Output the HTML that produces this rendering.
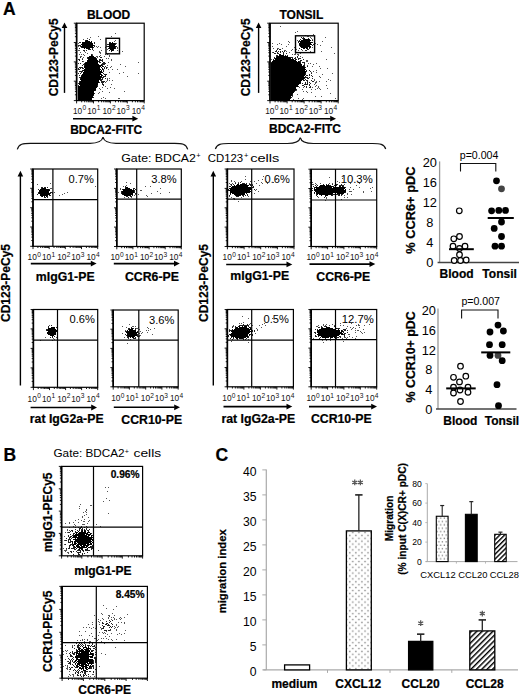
<!DOCTYPE html>
<html><head><meta charset="utf-8"><title>Figure</title>
<style>html,body{margin:0;padding:0;background:#fff;overflow:hidden;}svg{display:block;font-family:"Liberation Sans",sans-serif;}</style>
</head><body>
<svg width="520" height="695" viewBox="0 0 520 695" font-family="Liberation Sans"><style>text[font-weight=bold]{stroke:#000;stroke-width:0.22px}</style><text x="2.90" y="14.80" font-size="17.5" font-weight="bold" text-anchor="start" fill="#000">A</text>
<text x="3.40" y="461.00" font-size="17.5" font-weight="bold" text-anchor="start" fill="#000">B</text>
<text x="215.60" y="461.30" font-size="17.5" font-weight="bold" text-anchor="start" fill="#000">C</text>
<path d="M115 33h1v1h-1zM98 36h1v1h-1zM111 36h1v1h-1zM90 37h1v1h-1zM87 38h1v1h-1zM83 39h1v1h-1zM100 39h1v1h-1zM115 40h1v1h-1zM114 41h1v1h-1zM78 43h1v1h-1zM116 43h1v1h-1zM78 46h1v1h-1zM96 46h1v1h-1zM98 46h1v1h-1zM106 46h1v1h-1zM97 47h1v1h-1zM100 47h1v1h-1zM105 47h1v1h-1zM117 47h1v1h-1zM117 48h1v1h-1zM107 49h1v1h-1zM78 50h2v1h-2zM93 50h1v1h-1zM101 50h1v1h-1zM117 50h1v1h-1zM84 51h1v1h-1zM99 51h1v1h-1zM122 51h1v1h-1zM80 52h1v1h-1zM85 52h1v1h-1zM99 52h2v1h-2zM87 53h1v1h-1zM100 53h1v1h-1zM79 54h1v1h-1zM81 54h1v1h-1zM83 54h1v1h-1zM92 54h1v1h-1zM105 54h1v1h-1zM107 54h1v1h-1zM84 55h1v1h-1zM100 55h1v1h-1zM109 55h1v1h-1zM80 56h2v1h-2zM96 56h2v1h-2zM104 56h1v1h-1zM109 56h1v1h-1zM83 57h1v1h-1zM97 57h1v1h-1zM82 58h1v1h-1zM106 58h1v1h-1zM108 58h1v1h-1zM111 59h1v1h-1zM111 60h1v1h-1zM83 61h1v1h-1zM108 62h1v1h-1zM138 62h1v1h-1zM120 64h1v1h-1zM107 65h1v1h-1zM111 66h1v1h-1zM125 66h1v1h-1zM107 67h1v1h-1zM110 67h1v1h-1zM108 69h1v1h-1zM112 69h1v1h-1zM117 69h1v1h-1zM109 72h1v1h-1zM123 72h1v1h-1zM119 73h1v1h-1zM138 73h1v1h-1zM127 76h1v1h-1zM107 78h1v1h-1zM109 78h1v1h-1zM107 79h1v1h-1zM107 80h1v1h-1zM109 80h1v1h-1zM112 80h1v1h-1zM106 81h1v1h-1zM105 82h1v1h-1zM111 84h1v1h-1zM105 86h1v1h-1zM102 87h1v1h-1zM110 87h1v1h-1zM99 88h1v1h-1zM107 88h1v1h-1zM114 88h1v1h-1zM100 89h1v1h-1zM102 91h1v1h-1zM124 91h1v1h-1zM99 92h1v1h-1zM109 92h1v1h-1zM98 93h1v1h-1zM103 97h1v1h-1zM101 98h1v1h-1zM105 98h1v1h-1zM118 98h2v1h-2z" fill="#555" filter="url(#sb)"/>
<path d="M89 39h1v1h-1zM85 40h1v1h-1zM79 42h2v1h-2zM94 42h1v1h-1zM109 42h2v1h-2zM94 43h1v1h-1zM115 43h1v1h-1zM107 44h2v1h-2zM115 44h1v1h-1zM78 45h3v1h-3zM94 45h1v1h-1zM80 46h1v1h-1zM94 46h1v1h-1zM107 46h1v1h-1zM116 46h1v1h-1zM81 47h1v1h-1zM93 47h1v1h-1zM115 47h1v1h-1zM79 48h1v1h-1zM92 48h1v1h-1zM108 48h1v1h-1zM115 48h1v1h-1zM88 49h3v1h-3zM92 49h1v1h-1zM83 50h2v1h-2zM86 50h1v1h-1zM109 50h1v1h-1zM113 50h1v1h-1zM111 51h1v1h-1zM91 54h1v1h-1zM92 55h1v1h-1zM99 56h1v1h-1zM80 57h1v1h-1zM87 57h1v1h-1zM95 57h1v1h-1zM100 57h2v1h-2zM87 58h1v1h-1zM96 58h1v1h-1zM78 59h2v1h-2zM82 59h1v1h-1zM99 59h2v1h-2zM102 59h1v1h-1zM79 60h1v1h-1zM99 60h4v1h-4zM82 61h1v1h-1zM98 61h2v1h-2zM102 61h1v1h-1zM85 62h1v1h-1zM99 62h2v1h-2zM103 62h2v1h-2zM78 63h1v1h-1zM80 63h1v1h-1zM84 63h1v1h-1zM102 63h4v1h-4zM83 64h2v1h-2zM101 64h4v1h-4zM82 65h1v1h-1zM84 65h1v1h-1zM102 65h1v1h-1zM103 66h1v1h-1zM105 66h1v1h-1zM79 67h4v1h-4zM104 67h1v1h-1zM106 67h1v1h-1zM78 68h1v1h-1zM80 68h1v1h-1zM82 68h2v1h-2zM104 68h1v1h-1zM106 68h1v1h-1zM78 69h2v1h-2zM103 69h1v1h-1zM82 70h1v1h-1zM103 70h1v1h-1zM79 71h4v1h-4zM103 71h1v1h-1zM81 72h1v1h-1zM78 73h1v1h-1zM80 73h1v1h-1zM103 73h1v1h-1zM104 74h3v1h-3zM79 75h1v1h-1zM81 75h1v1h-1zM105 75h1v1h-1zM103 76h3v1h-3zM79 77h2v1h-2zM101 77h3v1h-3zM80 78h1v1h-1zM102 78h1v1h-1zM105 78h1v1h-1zM100 79h3v1h-3zM100 80h2v1h-2zM79 81h1v1h-1zM101 81h4v1h-4zM79 82h1v1h-1zM99 82h1v1h-1zM101 82h3v1h-3zM78 83h1v1h-1zM102 83h1v1h-1zM102 84h2v1h-2zM78 85h1v1h-1zM97 85h1v1h-1zM103 85h1v1h-1zM97 86h1v1h-1zM95 90h1v1h-1zM94 93h1v1h-1zM93 95h1v1h-1zM93 97h1v1h-1z" fill="#222" filter="url(#sb)"/>
<path d="M86 40h2v1h-2zM85 41h5v1h-5zM91 41h1v1h-1zM82 42h10v1h-10zM112 42h1v1h-1zM82 43h11v1h-11zM109 43h6v1h-6zM81 44h12v1h-12zM109 44h6v1h-6zM82 45h12v1h-12zM109 45h6v1h-6zM81 46h12v1h-12zM108 46h8v1h-8zM82 47h11v1h-11zM109 47h6v1h-6zM84 48h1v1h-1zM86 48h4v1h-4zM109 48h6v1h-6zM110 49h4v1h-4zM111 50h2v1h-2zM91 55h1v1h-1zM89 56h5v1h-5zM88 57h7v1h-7zM88 58h8v1h-8zM88 59h9v1h-9zM87 60h11v1h-11zM87 61h11v1h-11zM86 62h12v1h-12zM85 63h13v1h-13zM85 64h14v1h-14zM85 65h17v1h-17zM84 66h17v1h-17zM102 66h1v1h-1zM84 67h16v1h-16zM101 67h1v1h-1zM85 68h15v1h-15zM102 68h1v1h-1zM84 69h17v1h-17zM102 69h1v1h-1zM83 70h17v1h-17zM101 70h1v1h-1zM84 71h18v1h-18zM83 72h20v1h-20zM83 73h18v1h-18zM82 74h20v1h-20zM82 75h18v1h-18zM101 75h2v1h-2zM81 76h21v1h-21zM81 77h20v1h-20zM81 78h20v1h-20zM80 79h20v1h-20zM81 80h18v1h-18zM80 81h19v1h-19zM80 82h19v1h-19zM79 83h19v1h-19zM79 84h19v1h-19zM80 85h17v1h-17zM78 86h19v1h-19zM78 87h19v1h-19zM78 88h18v1h-18zM78 89h18v1h-18zM78 90h17v1h-17zM78 91h16v1h-16zM78 92h16v1h-16zM78 93h16v1h-16zM78 94h16v1h-16zM78 95h15v1h-15zM78 96h15v1h-15zM78 97h15v1h-15zM78 98h14v1h-14zM78 99h14v1h-14z" fill="#000" filter="url(#sb)"/>
<path d="M73.8 100.6H76.6M76.6 100.6V103.4M74.9 94.8H76.6M81.7 100.6V102.3M74.9 91.4H76.6M84.7 100.6V102.3M74.9 89.0H76.6M86.8 100.6V102.3M74.9 87.1H76.6M88.4 100.6V102.3M74.9 85.5H76.6M89.8 100.6V102.3M74.9 84.2H76.6M90.9 100.6V102.3M74.9 83.1H76.6M91.9 100.6V102.3M74.9 82.1H76.6M92.7 100.6V102.3M73.8 81.2H76.6M93.5 100.6V103.4M74.9 75.4H76.6M98.6 100.6V102.3M74.9 72.0H76.6M101.6 100.6V102.3M74.9 69.6H76.6M103.7 100.6V102.3M74.9 67.7H76.6M105.3 100.6V102.3M74.9 66.2H76.6M106.7 100.6V102.3M74.9 64.9H76.6M107.8 100.6V102.3M74.9 63.8H76.6M108.8 100.6V102.3M74.9 62.8H76.6M109.6 100.6V102.3M73.8 61.9H76.6M110.4 100.6V103.4M74.9 56.1H76.6M115.5 100.6V102.3M74.9 52.7H76.6M118.5 100.6V102.3M74.9 50.3H76.6M120.6 100.6V102.3M74.9 48.4H76.6M122.2 100.6V102.3M74.9 46.8H76.6M123.6 100.6V102.3M74.9 45.5H76.6M124.7 100.6V102.3M74.9 44.4H76.6M125.7 100.6V102.3M74.9 43.4H76.6M126.5 100.6V102.3M73.8 42.5H76.6M127.3 100.6V103.4M74.9 36.7H76.6M132.4 100.6V102.3M74.9 33.3H76.6M135.4 100.6V102.3M74.9 30.9H76.6M137.5 100.6V102.3M74.9 29.0H76.6M139.1 100.6V102.3M74.9 27.5H76.6M140.5 100.6V102.3M74.9 26.2H76.6M141.6 100.6V102.3M74.9 25.1H76.6M142.6 100.6V102.3M74.9 24.1H76.6M143.4 100.6V102.3M73.8 23.2H76.6M144.2 100.6V103.4" stroke="#000" stroke-width="0.9" fill="none"/>
<rect x="76.60" y="23.20" width="67.60" height="77.40" stroke="#000" stroke-width="1.2" fill="none"/>
<line x1="76.60" y1="22.90" x2="76.60" y2="100.90" stroke="#000" stroke-width="1.6"/>
<rect x="106.00" y="38.30" width="13.50" height="15.50" stroke="#000" stroke-width="1.4" fill="none"/>
<text x="108.60" y="19.00" font-size="12" font-weight="bold" text-anchor="middle" fill="#000">BLOOD</text>
<line x1="64.50" y1="92.90" x2="64.50" y2="27.50" stroke="#000" stroke-width="1.4"/>
<path d="M64.50 22.40L61.70 28.00L67.30 28.00Z" fill="#000"/>
<text x="58.40" y="57.30" font-size="12" font-weight="bold" text-anchor="middle" fill="#000" transform="rotate(-90 58.4 57.3)">CD123-PeCy5</text>
<text x="72.9" y="113.8" font-size="8.3" fill="#111">10<tspan font-size="6.6" dy="-3.6" dx="0.3">0</tspan></text>
<text x="87.2" y="113.8" font-size="8.3" fill="#111">10<tspan font-size="6.6" dy="-3.6" dx="0.3">1</tspan></text>
<text x="102.5" y="113.8" font-size="8.3" fill="#111">10<tspan font-size="6.6" dy="-3.6" dx="0.3">2</tspan></text>
<text x="116.5" y="113.8" font-size="8.3" fill="#111">10<tspan font-size="6.6" dy="-3.6" dx="0.3">3</tspan></text>
<text x="131.7" y="113.8" font-size="8.3" fill="#111">10<tspan font-size="6.6" dy="-3.6" dx="0.3">4</tspan></text>
<line x1="73.00" y1="118.70" x2="132.90" y2="118.70" stroke="#000" stroke-width="1.55"/>
<path d="M138.20 118.70L132.40 115.80L132.40 121.60Z" fill="#000"/>
<text x="106.20" y="133.60" font-size="12" font-weight="bold" text-anchor="middle" fill="#000">BDCA2-FITC</text>
<path d="M280 26h1v1h-1zM297 31h1v1h-1zM295 32h1v1h-1zM313 34h1v1h-1zM305 35h1v1h-1zM307 36h2v1h-2zM310 37h1v1h-1zM325 37h1v1h-1zM311 38h1v1h-1zM312 39h1v1h-1zM297 40h1v1h-1zM288 41h1v1h-1zM322 41h1v1h-1zM289 42h1v1h-1zM272 43h1v1h-1zM279 43h1v1h-1zM315 43h1v1h-1zM277 44h1v1h-1zM281 44h1v1h-1zM288 44h1v1h-1zM317 44h1v1h-1zM320 45h1v1h-1zM272 46h1v1h-1zM286 46h1v1h-1zM294 47h2v1h-2zM312 47h1v1h-1zM331 47h1v1h-1zM273 48h1v1h-1zM277 48h2v1h-2zM282 48h1v1h-1zM292 49h1v1h-1zM295 49h2v1h-2zM284 50h2v1h-2zM291 50h1v1h-1zM298 50h1v1h-1zM302 50h1v1h-1zM286 51h1v1h-1zM310 51h1v1h-1zM321 51h1v1h-1zM272 52h1v1h-1zM289 52h1v1h-1zM295 52h1v1h-1zM301 52h1v1h-1zM295 53h1v1h-1zM300 53h1v1h-1zM334 53h1v1h-1zM292 54h1v1h-1zM294 54h2v1h-2zM297 54h2v1h-2zM298 55h1v1h-1zM300 56h1v1h-1zM302 57h1v1h-1zM271 59h1v1h-1zM326 59h1v1h-1zM306 60h2v1h-2zM306 61h2v1h-2zM308 63h1v1h-1zM310 63h1v1h-1zM316 63h1v1h-1zM313 64h1v1h-1zM307 65h1v1h-1zM312 66h1v1h-1zM319 66h1v1h-1zM320 68h1v1h-1zM327 68h1v1h-1zM316 70h1v1h-1zM313 71h1v1h-1zM311 72h1v1h-1zM316 72h1v1h-1zM332 73h1v1h-1zM322 74h1v1h-1zM319 76h1v1h-1zM320 77h1v1h-1zM314 79h1v1h-1zM328 79h1v1h-1zM314 80h1v1h-1zM330 80h1v1h-1zM316 81h1v1h-1zM319 81h1v1h-1zM326 81h1v1h-1zM315 82h2v1h-2zM315 83h1v1h-1zM314 84h1v1h-1zM316 85h1v1h-1zM326 85h1v1h-1zM315 86h1v1h-1zM318 86h1v1h-1zM299 87h1v1h-1zM303 87h1v1h-1zM312 87h1v1h-1zM318 87h1v1h-1zM317 88h1v1h-1zM319 88h1v1h-1zM327 88h1v1h-1zM302 89h1v1h-1zM311 89h1v1h-1zM315 89h1v1h-1zM320 89h1v1h-1zM296 90h1v1h-1zM303 91h1v1h-1zM306 91h1v1h-1zM307 92h1v1h-1zM311 92h1v1h-1zM330 93h1v1h-1zM297 94h1v1h-1zM292 96h1v1h-1zM315 96h1v1h-1zM321 96h1v1h-1zM298 98h1v1h-1zM303 98h1v1h-1zM335 98h1v1h-1zM293 99h1v1h-1zM302 99h1v1h-1z" fill="#555" filter="url(#sb)"/>
<path d="M301 37h1v1h-1zM303 37h1v1h-1zM302 38h2v1h-2zM308 38h1v1h-1zM300 39h1v1h-1zM299 40h1v1h-1zM312 40h1v1h-1zM298 41h2v1h-2zM298 42h1v1h-1zM312 42h1v1h-1zM313 44h1v1h-1zM299 45h1v1h-1zM312 45h1v1h-1zM310 47h1v1h-1zM299 48h1v1h-1zM309 48h1v1h-1zM277 49h1v1h-1zM279 49h2v1h-2zM301 49h1v1h-1zM307 49h2v1h-2zM276 50h1v1h-1zM305 50h2v1h-2zM275 51h2v1h-2zM278 51h1v1h-1zM280 51h1v1h-1zM282 51h1v1h-1zM284 51h1v1h-1zM273 52h1v1h-1zM277 52h1v1h-1zM280 52h1v1h-1zM283 52h1v1h-1zM274 53h2v1h-2zM277 53h2v1h-2zM283 53h1v1h-1zM286 53h1v1h-1zM283 54h1v1h-1zM276 55h2v1h-2zM285 55h1v1h-1zM287 55h1v1h-1zM276 56h1v1h-1zM297 56h1v1h-1zM274 57h1v1h-1zM290 57h3v1h-3zM295 57h1v1h-1zM297 57h1v1h-1zM274 58h1v1h-1zM292 58h1v1h-1zM294 58h2v1h-2zM298 58h3v1h-3zM273 59h1v1h-1zM295 59h2v1h-2zM298 59h1v1h-1zM303 59h1v1h-1zM300 60h2v1h-2zM299 61h2v1h-2zM271 62h1v1h-1zM300 62h1v1h-1zM302 62h3v1h-3zM304 63h1v1h-1zM304 64h1v1h-1zM303 65h2v1h-2zM304 66h1v1h-1zM307 66h1v1h-1zM305 67h1v1h-1zM306 70h1v1h-1zM309 70h1v1h-1zM306 71h1v1h-1zM310 71h1v1h-1zM305 73h1v1h-1zM311 73h1v1h-1zM305 74h1v1h-1zM309 74h1v1h-1zM306 75h2v1h-2zM309 75h1v1h-1zM311 75h1v1h-1zM305 76h1v1h-1zM312 76h1v1h-1zM305 77h3v1h-3zM309 77h1v1h-1zM304 78h1v1h-1zM307 78h2v1h-2zM312 78h1v1h-1zM303 79h1v1h-1zM305 79h1v1h-1zM303 80h2v1h-2zM306 80h2v1h-2zM311 80h1v1h-1zM307 81h1v1h-1zM312 81h2v1h-2zM305 82h1v1h-1zM307 82h1v1h-1zM309 82h1v1h-1zM300 83h1v1h-1zM302 83h1v1h-1zM305 83h1v1h-1zM307 83h1v1h-1zM310 83h1v1h-1zM304 84h4v1h-4zM309 84h1v1h-1zM302 85h2v1h-2zM309 85h1v1h-1zM298 86h1v1h-1zM304 86h1v1h-1zM306 86h1v1h-1zM310 86h1v1h-1zM306 87h1v1h-1zM309 87h2v1h-2zM296 89h1v1h-1zM295 90h1v1h-1zM294 91h1v1h-1zM292 94h1v1h-1zM292 95h1v1h-1zM291 97h1v1h-1zM290 98h1v1h-1z" fill="#222" filter="url(#sb)"/>
<path d="M304 38h1v1h-1zM303 39h7v1h-7zM301 40h10v1h-10zM300 41h10v1h-10zM300 42h12v1h-12zM299 43h12v1h-12zM299 44h13v1h-13zM300 45h10v1h-10zM300 46h11v1h-11zM301 47h7v1h-7zM309 47h1v1h-1zM303 48h2v1h-2zM306 48h2v1h-2zM279 54h2v1h-2zM279 55h5v1h-5zM277 56h11v1h-11zM276 57h14v1h-14zM275 58h16v1h-16zM275 59h19v1h-19zM273 60h23v1h-23zM272 61h25v1h-25zM298 61h1v1h-1zM272 62h28v1h-28zM271 63h30v1h-30zM271 64h31v1h-31zM271 65h31v1h-31zM271 66h33v1h-33zM271 67h34v1h-34zM271 68h34v1h-34zM271 69h35v1h-35zM271 70h34v1h-34zM271 71h35v1h-35zM271 72h35v1h-35zM271 73h34v1h-34zM271 74h34v1h-34zM271 75h34v1h-34zM271 76h33v1h-33zM271 77h34v1h-34zM271 78h33v1h-33zM271 79h32v1h-32zM271 80h31v1h-31zM271 81h30v1h-30zM271 82h30v1h-30zM271 83h29v1h-29zM271 84h28v1h-28zM271 85h27v1h-27zM271 86h27v1h-27zM271 87h25v1h-25zM271 88h25v1h-25zM271 89h25v1h-25zM271 90h24v1h-24zM271 91h23v1h-23zM271 92h23v1h-23zM271 93h22v1h-22zM271 94h21v1h-21zM271 95h21v1h-21zM271 96h20v1h-20zM271 97h20v1h-20zM271 98h19v1h-19zM271 99h19v1h-19z" fill="#000" filter="url(#sb)"/>
<path d="M267.2 100.6H270.0M270.0 100.6V103.4M268.3 94.8H270.0M275.1 100.6V102.3M268.3 91.4H270.0M278.1 100.6V102.3M268.3 89.0H270.0M280.3 100.6V102.3M268.3 87.1H270.0M281.9 100.6V102.3M268.3 85.5H270.0M283.3 100.6V102.3M268.3 84.2H270.0M284.4 100.6V102.3M268.3 83.1H270.0M285.4 100.6V102.3M268.3 82.1H270.0M286.3 100.6V102.3M267.2 81.2H270.0M287.1 100.6V103.4M268.3 75.4H270.0M292.2 100.6V102.3M268.3 72.0H270.0M295.2 100.6V102.3M268.3 69.6H270.0M297.3 100.6V102.3M268.3 67.7H270.0M299.0 100.6V102.3M268.3 66.2H270.0M300.3 100.6V102.3M268.3 64.9H270.0M301.5 100.6V102.3M268.3 63.8H270.0M302.4 100.6V102.3M268.3 62.8H270.0M303.3 100.6V102.3M267.2 61.9H270.0M304.1 100.6V103.4M268.3 56.1H270.0M309.2 100.6V102.3M268.3 52.7H270.0M312.2 100.6V102.3M268.3 50.3H270.0M314.4 100.6V102.3M268.3 48.4H270.0M316.0 100.6V102.3M268.3 46.8H270.0M317.4 100.6V102.3M268.3 45.5H270.0M318.5 100.6V102.3M268.3 44.4H270.0M319.5 100.6V102.3M268.3 43.4H270.0M320.4 100.6V102.3M267.2 42.5H270.0M321.1 100.6V103.4M268.3 36.7H270.0M326.3 100.6V102.3M268.3 33.3H270.0M329.3 100.6V102.3M268.3 30.9H270.0M331.4 100.6V102.3M268.3 29.0H270.0M333.1 100.6V102.3M268.3 27.5H270.0M334.4 100.6V102.3M268.3 26.2H270.0M335.6 100.6V102.3M268.3 25.1H270.0M336.5 100.6V102.3M268.3 24.1H270.0M337.4 100.6V102.3M267.2 23.2H270.0M338.2 100.6V103.4" stroke="#000" stroke-width="0.9" fill="none"/>
<rect x="270.00" y="23.20" width="68.20" height="77.40" stroke="#000" stroke-width="1.2" fill="none"/>
<line x1="270.00" y1="22.90" x2="270.00" y2="100.90" stroke="#000" stroke-width="1.6"/>
<rect x="295.50" y="35.80" width="19.10" height="16.80" stroke="#000" stroke-width="1.4" fill="none"/>
<text x="301.40" y="18.80" font-size="12" font-weight="bold" text-anchor="middle" fill="#000">TONSIL</text>
<line x1="258.60" y1="92.90" x2="258.60" y2="27.50" stroke="#000" stroke-width="1.4"/>
<path d="M258.60 22.40L255.80 28.00L261.40 28.00Z" fill="#000"/>
<text x="249.60" y="57.30" font-size="12" font-weight="bold" text-anchor="middle" fill="#000" transform="rotate(-90 249.6 57.3)">CD123-PeCy5</text>
<text x="265.2" y="113.8" font-size="8.3" fill="#111">10<tspan font-size="6.6" dy="-3.6" dx="0.3">0</tspan></text>
<text x="279.5" y="113.8" font-size="8.3" fill="#111">10<tspan font-size="6.6" dy="-3.6" dx="0.3">1</tspan></text>
<text x="294.8" y="113.8" font-size="8.3" fill="#111">10<tspan font-size="6.6" dy="-3.6" dx="0.3">2</tspan></text>
<text x="308.8" y="113.8" font-size="8.3" fill="#111">10<tspan font-size="6.6" dy="-3.6" dx="0.3">3</tspan></text>
<text x="324.0" y="113.8" font-size="8.3" fill="#111">10<tspan font-size="6.6" dy="-3.6" dx="0.3">4</tspan></text>
<line x1="270.00" y1="118.70" x2="330.70" y2="118.70" stroke="#000" stroke-width="1.55"/>
<path d="M336.00 118.70L330.20 115.80L330.20 121.60Z" fill="#000"/>
<text x="305.00" y="132.90" font-size="12" font-weight="bold" text-anchor="middle" fill="#000">BDCA2-FITC</text>
<path d="M17.3 149.4 C18.8 143.8 23.3 143.3 30.3 143.3 L90 143.3 C98 143.3 102 141.8 103 137 C104 141.8 108 143.3 116 143.3 L174.7 143.3 C181.7 143.3 186.2 143.8 187.7 149.4" stroke="#111" stroke-width="1.2" fill="none"/>
<path d="M215.4 149 C216.9 144.0 221.4 143.5 228.4 143.5 L287.3 143.5 C295.3 143.5 299.3 142.0 300.3 137.6 C301.3 142.0 305.3 143.5 313.3 143.5 L372.7 143.5 C379.7 143.5 384.2 144.0 385.7 149" stroke="#111" stroke-width="1.2" fill="none"/>
<text x="121.3" y="162.0" font-size="11.4" textLength="74.6" lengthAdjust="spacingAndGlyphs">Gate: BDCA2</text>
<text x="196.2" y="158.3" font-size="7.5">+</text>
<text x="207.8" y="162.0" font-size="11.4" textLength="35.4" lengthAdjust="spacingAndGlyphs">CD123</text>
<text x="243.9" y="158.3" font-size="7.5">+</text>
<text x="250.2" y="162.0" font-size="11.4" textLength="29.2" lengthAdjust="spacingAndGlyphs">cells</text>
<path d="M50 183h1v1h-1zM37 184h1v1h-1zM95 186h1v1h-1zM50 188h2v1h-2zM52 192h1v1h-1zM54 192h1v1h-1zM67 192h1v1h-1zM52 193h1v1h-1zM64 193h1v1h-1zM62 194h1v1h-1zM59 195h1v1h-1z" fill="#555" filter="url(#sb)"/>
<path d="M41 187h2v1h-2zM44 187h2v1h-2zM47 187h1v1h-1zM41 188h1v1h-1zM38 189h1v1h-1zM49 189h1v1h-1zM38 192h1v1h-1zM50 192h2v1h-2zM38 193h1v1h-1zM50 193h1v1h-1zM37 194h1v1h-1zM49 195h2v1h-2zM41 196h1v1h-1zM47 196h1v1h-1zM44 197h2v1h-2zM47 197h1v1h-1z" fill="#222" filter="url(#sb)"/>
<path d="M42 188h4v1h-4zM40 189h9v1h-9zM39 190h11v1h-11zM39 191h10v1h-10zM39 192h10v1h-10zM39 193h11v1h-11zM40 194h10v1h-10zM40 195h8v1h-8zM42 196h1v1h-1zM44 196h1v1h-1zM46 196h1v1h-1z" fill="#000" filter="url(#sb)"/>
<path d="M30.2 246.3H33.0M33.0 246.3V249.1M31.3 240.5H33.0M37.9 246.3V248.0M31.3 237.1H33.0M40.7 246.3V248.0M31.3 234.7H33.0M42.7 246.3V248.0M31.3 232.8H33.0M44.3 246.3V248.0M31.3 231.3H33.0M45.6 246.3V248.0M31.3 230.0H33.0M46.7 246.3V248.0M31.3 228.8H33.0M47.6 246.3V248.0M31.3 227.9H33.0M48.4 246.3V248.0M30.2 227.0H33.0M49.2 246.3V249.1M31.3 221.2H33.0M54.0 246.3V248.0M31.3 217.8H33.0M56.9 246.3V248.0M31.3 215.3H33.0M58.9 246.3V248.0M31.3 213.5H33.0M60.5 246.3V248.0M31.3 211.9H33.0M61.8 246.3V248.0M31.3 210.6H33.0M62.8 246.3V248.0M31.3 209.5H33.0M63.8 246.3V248.0M31.3 208.5H33.0M64.6 246.3V248.0M30.2 207.7H33.0M65.3 246.3V249.1M31.3 201.8H33.0M70.2 246.3V248.0M31.3 198.4H33.0M73.1 246.3V248.0M31.3 196.0H33.0M75.1 246.3V248.0M31.3 194.1H33.0M76.7 246.3V248.0M31.3 192.6H33.0M77.9 246.3V248.0M31.3 191.3H33.0M79.0 246.3V248.0M31.3 190.2H33.0M80.0 246.3V248.0M31.3 189.2H33.0M80.8 246.3V248.0M30.2 188.3H33.0M81.5 246.3V249.1M31.3 182.5H33.0M86.4 246.3V248.0M31.3 179.1H33.0M89.2 246.3V248.0M31.3 176.7H33.0M91.3 246.3V248.0M31.3 174.8H33.0M92.8 246.3V248.0M31.3 173.3H33.0M94.1 246.3V248.0M31.3 172.0H33.0M95.2 246.3V248.0M31.3 170.9H33.0M96.1 246.3V248.0M31.3 169.9H33.0M97.0 246.3V248.0M30.2 169.0H33.0M97.7 246.3V249.1" stroke="#000" stroke-width="0.9" fill="none"/>
<line x1="52.90" y1="169.00" x2="52.90" y2="246.30" stroke="#000" stroke-width="1.2"/>
<line x1="33.00" y1="199.60" x2="97.70" y2="199.60" stroke="#000" stroke-width="1.2"/>
<rect x="33.00" y="169.00" width="64.70" height="77.30" stroke="#000" stroke-width="1.2" fill="none"/>
<line x1="33.00" y1="168.70" x2="33.00" y2="246.60" stroke="#000" stroke-width="1.6"/>
<text x="93.90" y="182.70" font-size="11.1" text-anchor="end" fill="#000">0.7%</text>
<text x="27.6" y="260.4" font-size="8.3" fill="#111">10<tspan font-size="6.6" dy="-3.6" dx="0.3">0</tspan></text>
<text x="41.9" y="260.4" font-size="8.3" fill="#111">10<tspan font-size="6.6" dy="-3.6" dx="0.3">1</tspan></text>
<text x="57.2" y="260.4" font-size="8.3" fill="#111">10<tspan font-size="6.6" dy="-3.6" dx="0.3">2</tspan></text>
<text x="71.2" y="260.4" font-size="8.3" fill="#111">10<tspan font-size="6.6" dy="-3.6" dx="0.3">3</tspan></text>
<text x="86.4" y="260.4" font-size="8.3" fill="#111">10<tspan font-size="6.6" dy="-3.6" dx="0.3">4</tspan></text>
<line x1="30.80" y1="263.60" x2="91.30" y2="263.60" stroke="#000" stroke-width="1.55"/>
<path d="M96.60 263.60L90.80 260.70L90.80 266.50Z" fill="#000"/>
<text x="65.20" y="280.60" font-size="12.3" font-weight="bold" text-anchor="middle" fill="#000">mIgG1-PE</text>
<path d="M126 182h1v1h-1zM130 183h1v1h-1zM126 185h1v1h-1zM123 186h1v1h-1zM145 186h1v1h-1zM150 186h1v1h-1zM120 188h1v1h-1zM160 188h1v1h-1zM120 189h1v1h-1zM136 190h1v1h-1zM140 190h2v1h-2zM157 191h1v1h-1zM118 192h1v1h-1zM169 192h1v1h-1zM136 193h1v1h-1zM151 193h1v1h-1zM160 193h1v1h-1zM135 194h1v1h-1zM138 194h1v1h-1zM134 195h1v1h-1zM146 195h1v1h-1zM147 196h1v1h-1zM124 197h1v1h-1zM131 197h1v1h-1z" fill="#555" filter="url(#sb)"/>
<path d="M125 186h1v1h-1zM125 187h1v1h-1zM133 188h2v1h-2zM122 189h1v1h-1zM133 189h1v1h-1zM135 189h1v1h-1zM134 190h1v1h-1zM121 191h1v1h-1zM134 191h1v1h-1zM121 192h1v1h-1zM134 192h1v1h-1zM121 193h1v1h-1zM135 193h1v1h-1zM122 194h1v1h-1zM132 195h1v1h-1zM126 196h2v1h-2zM130 196h2v1h-2zM128 197h1v1h-1z" fill="#222" filter="url(#sb)"/>
<path d="M126 187h2v1h-2zM125 188h5v1h-5zM123 189h9v1h-9zM123 190h11v1h-11zM122 191h12v1h-12zM122 192h12v1h-12zM122 193h11v1h-11zM123 194h10v1h-10zM124 195h7v1h-7z" fill="#000" filter="url(#sb)"/>
<path d="M114.0 246.5H116.8M116.8 246.5V249.3M115.1 240.7H116.8M121.7 246.5V248.2M115.1 237.3H116.8M124.5 246.5V248.2M115.1 234.8H116.8M126.5 246.5V248.2M115.1 233.0H116.8M128.1 246.5V248.2M115.1 231.4H116.8M129.3 246.5V248.2M115.1 230.1H116.8M130.4 246.5V248.2M115.1 229.0H116.8M131.4 246.5V248.2M115.1 228.0H116.8M132.2 246.5V248.2M114.0 227.1H116.8M132.9 246.5V249.3M115.1 221.3H116.8M137.8 246.5V248.2M115.1 217.9H116.8M140.6 246.5V248.2M115.1 215.5H116.8M142.6 246.5V248.2M115.1 213.6H116.8M144.2 246.5V248.2M115.1 212.0H116.8M145.5 246.5V248.2M115.1 210.8H116.8M146.6 246.5V248.2M115.1 209.6H116.8M147.5 246.5V248.2M115.1 208.6H116.8M148.3 246.5V248.2M114.0 207.8H116.8M149.1 246.5V249.3M115.1 201.9H116.8M153.9 246.5V248.2M115.1 198.5H116.8M156.7 246.5V248.2M115.1 196.1H116.8M158.8 246.5V248.2M115.1 194.2H116.8M160.3 246.5V248.2M115.1 192.7H116.8M161.6 246.5V248.2M115.1 191.4H116.8M162.7 246.5V248.2M115.1 190.3H116.8M163.6 246.5V248.2M115.1 189.3H116.8M164.4 246.5V248.2M114.0 188.4H116.8M165.2 246.5V249.3M115.1 182.5H116.8M170.0 246.5V248.2M115.1 179.1H116.8M172.9 246.5V248.2M115.1 176.7H116.8M174.9 246.5V248.2M115.1 174.8H116.8M176.4 246.5V248.2M115.1 173.3H116.8M177.7 246.5V248.2M115.1 172.0H116.8M178.8 246.5V248.2M115.1 170.9H116.8M179.7 246.5V248.2M115.1 169.9H116.8M180.6 246.5V248.2M114.0 169.0H116.8M181.3 246.5V249.3" stroke="#000" stroke-width="0.9" fill="none"/>
<line x1="136.70" y1="169.00" x2="136.70" y2="246.50" stroke="#000" stroke-width="1.2"/>
<line x1="116.80" y1="199.10" x2="181.30" y2="199.10" stroke="#000" stroke-width="1.2"/>
<rect x="116.80" y="169.00" width="64.50" height="77.50" stroke="#000" stroke-width="1.2" fill="none"/>
<line x1="116.80" y1="168.70" x2="116.80" y2="246.80" stroke="#000" stroke-width="1.6"/>
<text x="176.60" y="182.70" font-size="11.1" text-anchor="end" fill="#000">3.8%</text>
<text x="110.4" y="260.4" font-size="8.3" fill="#111">10<tspan font-size="6.6" dy="-3.6" dx="0.3">0</tspan></text>
<text x="124.7" y="260.4" font-size="8.3" fill="#111">10<tspan font-size="6.6" dy="-3.6" dx="0.3">1</tspan></text>
<text x="140.0" y="260.4" font-size="8.3" fill="#111">10<tspan font-size="6.6" dy="-3.6" dx="0.3">2</tspan></text>
<text x="154.0" y="260.4" font-size="8.3" fill="#111">10<tspan font-size="6.6" dy="-3.6" dx="0.3">3</tspan></text>
<text x="169.2" y="260.4" font-size="8.3" fill="#111">10<tspan font-size="6.6" dy="-3.6" dx="0.3">4</tspan></text>
<line x1="113.80" y1="263.60" x2="174.50" y2="263.60" stroke="#000" stroke-width="1.55"/>
<path d="M179.80 263.60L174.00 260.70L174.00 266.50Z" fill="#000"/>
<text x="151.90" y="280.60" font-size="12.3" font-weight="bold" text-anchor="middle" fill="#000">CCR6-PE</text>
<path d="M245 176h1v1h-1zM263 176h1v1h-1zM245 179h1v1h-1zM262 179h1v1h-1zM276 179h1v1h-1zM231 180h1v1h-1zM258 180h1v1h-1zM231 181h1v1h-1zM234 181h1v1h-1zM241 181h1v1h-1zM250 181h1v1h-1zM254 181h1v1h-1zM266 181h1v1h-1zM235 182h1v1h-1zM238 182h1v1h-1zM261 182h1v1h-1zM273 182h1v1h-1zM229 183h1v1h-1zM232 183h1v1h-1zM249 183h1v1h-1zM256 183h1v1h-1zM262 183h1v1h-1zM267 183h1v1h-1zM230 184h1v1h-1zM252 184h1v1h-1zM259 185h1v1h-1zM256 189h1v1h-1zM255 190h1v1h-1zM258 191h1v1h-1zM254 193h1v1h-1zM229 196h1v1h-1zM248 196h1v1h-1zM231 197h1v1h-1zM241 197h1v1h-1zM233 198h2v1h-2zM234 199h1v1h-1zM238 201h1v1h-1z" fill="#555" filter="url(#sb)"/>
<path d="M240 182h1v1h-1zM235 183h1v1h-1zM238 183h1v1h-1zM242 183h3v1h-3zM246 183h1v1h-1zM231 184h1v1h-1zM233 184h1v1h-1zM246 184h1v1h-1zM249 184h2v1h-2zM231 185h1v1h-1zM250 185h1v1h-1zM252 185h1v1h-1zM229 186h2v1h-2zM253 186h1v1h-1zM252 187h2v1h-2zM228 189h1v1h-1zM254 189h1v1h-1zM228 190h1v1h-1zM251 190h1v1h-1zM251 192h1v1h-1zM230 194h1v1h-1zM247 194h1v1h-1zM229 195h1v1h-1zM235 195h1v1h-1zM242 195h2v1h-2zM245 195h1v1h-1zM247 195h1v1h-1zM236 196h3v1h-3zM243 196h1v1h-1z" fill="#222" filter="url(#sb)"/>
<path d="M237 184h2v1h-2zM240 184h6v1h-6zM234 185h1v1h-1zM236 185h13v1h-13zM232 186h16v1h-16zM231 187h20v1h-20zM229 188h23v1h-23zM230 189h22v1h-22zM229 190h21v1h-21zM230 191h21v1h-21zM230 192h20v1h-20zM230 193h1v1h-1zM232 193h13v1h-13zM246 193h1v1h-1zM234 194h11v1h-11zM236 195h5v1h-5z" fill="#000" filter="url(#sb)"/>
<path d="M224.6 246.5H227.4M227.4 246.5V249.3M225.7 240.7H227.4M232.4 246.5V248.2M225.7 237.3H227.4M235.3 246.5V248.2M225.7 234.8H227.4M237.4 246.5V248.2M225.7 233.0H227.4M239.0 246.5V248.2M225.7 231.4H227.4M240.4 246.5V248.2M225.7 230.1H227.4M241.5 246.5V248.2M225.7 229.0H227.4M242.4 246.5V248.2M225.7 228.0H227.4M243.3 246.5V248.2M224.6 227.1H227.4M244.1 246.5V249.3M225.7 221.3H227.4M249.1 246.5V248.2M225.7 217.9H227.4M252.0 246.5V248.2M225.7 215.5H227.4M254.1 246.5V248.2M225.7 213.6H227.4M255.7 246.5V248.2M225.7 212.0H227.4M257.0 246.5V248.2M225.7 210.8H227.4M258.1 246.5V248.2M225.7 209.6H227.4M259.1 246.5V248.2M225.7 208.6H227.4M259.9 246.5V248.2M224.6 207.8H227.4M260.7 246.5V249.3M225.7 201.9H227.4M265.7 246.5V248.2M225.7 198.5H227.4M268.6 246.5V248.2M225.7 196.1H227.4M270.7 246.5V248.2M225.7 194.2H227.4M272.3 246.5V248.2M225.7 192.7H227.4M273.7 246.5V248.2M225.7 191.4H227.4M274.8 246.5V248.2M225.7 190.3H227.4M275.7 246.5V248.2M225.7 189.3H227.4M276.6 246.5V248.2M224.6 188.4H227.4M277.4 246.5V249.3M225.7 182.5H227.4M282.4 246.5V248.2M225.7 179.1H227.4M285.3 246.5V248.2M225.7 176.7H227.4M287.4 246.5V248.2M225.7 174.8H227.4M289.0 246.5V248.2M225.7 173.3H227.4M290.3 246.5V248.2M225.7 172.0H227.4M291.4 246.5V248.2M225.7 170.9H227.4M292.4 246.5V248.2M225.7 169.9H227.4M293.2 246.5V248.2M224.6 169.0H227.4M294.0 246.5V249.3" stroke="#000" stroke-width="0.9" fill="none"/>
<line x1="251.70" y1="169.00" x2="251.70" y2="246.50" stroke="#000" stroke-width="1.2"/>
<line x1="227.40" y1="199.10" x2="294.00" y2="199.10" stroke="#000" stroke-width="1.2"/>
<rect x="227.40" y="169.00" width="66.60" height="77.50" stroke="#000" stroke-width="1.2" fill="none"/>
<line x1="227.40" y1="168.70" x2="227.40" y2="246.80" stroke="#000" stroke-width="1.6"/>
<text x="289.80" y="182.70" font-size="11.1" text-anchor="end" fill="#000">0.6%</text>
<text x="222.6" y="260.4" font-size="8.3" fill="#111">10<tspan font-size="6.6" dy="-3.6" dx="0.3">0</tspan></text>
<text x="236.9" y="260.4" font-size="8.3" fill="#111">10<tspan font-size="6.6" dy="-3.6" dx="0.3">1</tspan></text>
<text x="252.2" y="260.4" font-size="8.3" fill="#111">10<tspan font-size="6.6" dy="-3.6" dx="0.3">2</tspan></text>
<text x="266.2" y="260.4" font-size="8.3" fill="#111">10<tspan font-size="6.6" dy="-3.6" dx="0.3">3</tspan></text>
<text x="281.4" y="260.4" font-size="8.3" fill="#111">10<tspan font-size="6.6" dy="-3.6" dx="0.3">4</tspan></text>
<line x1="226.20" y1="264.40" x2="287.00" y2="264.40" stroke="#000" stroke-width="1.55"/>
<path d="M292.30 264.40L286.50 261.50L286.50 267.30Z" fill="#000"/>
<text x="259.70" y="280.20" font-size="12.3" font-weight="bold" text-anchor="middle" fill="#000">mIgG1-PE</text>
<path d="M329 177h1v1h-1zM342 178h1v1h-1zM337 181h1v1h-1zM312 182h1v1h-1zM339 182h1v1h-1zM315 183h1v1h-1zM320 183h1v1h-1zM329 183h1v1h-1zM332 183h1v1h-1zM335 183h1v1h-1zM350 183h1v1h-1zM359 183h1v1h-1zM312 184h2v1h-2zM316 184h1v1h-1zM344 184h1v1h-1zM356 185h1v1h-1zM350 187h1v1h-1zM359 187h1v1h-1zM372 187h1v1h-1zM370 188h1v1h-1zM349 189h1v1h-1zM353 189h1v1h-1zM349 191h3v1h-3zM363 191h1v1h-1zM371 191h1v1h-1zM363 192h1v1h-1zM347 193h1v1h-1zM347 194h1v1h-1zM351 194h1v1h-1zM344 195h1v1h-1zM318 197h1v1h-1zM326 197h1v1h-1zM344 197h1v1h-1zM347 197h1v1h-1zM326 198h1v1h-1zM341 199h1v1h-1zM325 200h1v1h-1z" fill="#555" filter="url(#sb)"/>
<path d="M323 184h1v1h-1zM326 184h1v1h-1zM328 184h1v1h-1zM332 184h1v1h-1zM336 184h2v1h-2zM341 184h1v1h-1zM315 185h1v1h-1zM317 185h1v1h-1zM329 185h2v1h-2zM334 185h1v1h-1zM336 185h1v1h-1zM339 185h5v1h-5zM313 186h1v1h-1zM316 186h1v1h-1zM333 186h1v1h-1zM343 186h1v1h-1zM314 187h1v1h-1zM345 187h1v1h-1zM312 188h1v1h-1zM312 190h1v1h-1zM345 192h1v1h-1zM314 193h1v1h-1zM316 194h1v1h-1zM332 194h7v1h-7zM341 194h2v1h-2zM316 195h1v1h-1zM331 195h2v1h-2zM335 195h1v1h-1zM338 195h2v1h-2zM341 195h1v1h-1zM317 196h1v1h-1zM325 196h1v1h-1zM324 197h1v1h-1z" fill="#222" filter="url(#sb)"/>
<path d="M320 185h5v1h-5zM326 185h3v1h-3zM319 186h14v1h-14zM339 186h2v1h-2zM342 186h1v1h-1zM315 187h17v1h-17zM333 187h12v1h-12zM314 188h1v1h-1zM316 188h29v1h-29zM314 189h30v1h-30zM345 189h1v1h-1zM314 190h32v1h-32zM315 191h31v1h-31zM314 192h1v1h-1zM316 192h29v1h-29zM316 193h17v1h-17zM335 193h1v1h-1zM337 193h7v1h-7zM317 194h1v1h-1zM319 194h13v1h-13zM339 194h1v1h-1zM321 195h1v1h-1zM325 195h3v1h-3z" fill="#000" filter="url(#sb)"/>
<path d="M308.4 246.5H311.2M311.2 246.5V249.3M309.5 240.7H311.2M316.1 246.5V248.2M309.5 237.3H311.2M319.0 246.5V248.2M309.5 234.9H311.2M321.1 246.5V248.2M309.5 233.0H311.2M322.6 246.5V248.2M309.5 231.5H311.2M323.9 246.5V248.2M309.5 230.2H311.2M325.0 246.5V248.2M309.5 229.0H311.2M326.0 246.5V248.2M309.5 228.1H311.2M326.8 246.5V248.2M308.4 227.2H311.2M327.6 246.5V249.3M309.5 221.4H311.2M332.5 246.5V248.2M309.5 218.0H311.2M335.4 246.5V248.2M309.5 215.5H311.2M337.4 246.5V248.2M309.5 213.7H311.2M339.0 246.5V248.2M309.5 212.1H311.2M340.3 246.5V248.2M309.5 210.8H311.2M341.4 246.5V248.2M309.5 209.7H311.2M342.4 246.5V248.2M309.5 208.7H311.2M343.2 246.5V248.2M308.4 207.8H311.2M343.9 246.5V249.3M309.5 202.0H311.2M348.9 246.5V248.2M309.5 198.6H311.2M351.8 246.5V248.2M309.5 196.2H311.2M353.8 246.5V248.2M309.5 194.3H311.2M355.4 246.5V248.2M309.5 192.8H311.2M356.7 246.5V248.2M309.5 191.5H311.2M357.8 246.5V248.2M309.5 190.4H311.2M358.7 246.5V248.2M309.5 189.4H311.2M359.6 246.5V248.2M308.4 188.5H311.2M360.3 246.5V249.3M309.5 182.7H311.2M365.3 246.5V248.2M309.5 179.3H311.2M368.1 246.5V248.2M309.5 176.9H311.2M370.2 246.5V248.2M309.5 175.0H311.2M371.8 246.5V248.2M309.5 173.5H311.2M373.1 246.5V248.2M309.5 172.2H311.2M374.2 246.5V248.2M309.5 171.1H311.2M375.1 246.5V248.2M309.5 170.1H311.2M376.0 246.5V248.2M308.4 169.2H311.2M376.7 246.5V249.3" stroke="#000" stroke-width="0.9" fill="none"/>
<line x1="335.50" y1="169.20" x2="335.50" y2="246.50" stroke="#000" stroke-width="1.2"/>
<line x1="311.20" y1="200.00" x2="376.70" y2="200.00" stroke="#000" stroke-width="1.2"/>
<rect x="311.20" y="169.20" width="65.50" height="77.30" stroke="#000" stroke-width="1.2" fill="none"/>
<line x1="311.20" y1="168.90" x2="311.20" y2="246.80" stroke="#000" stroke-width="1.6"/>
<text x="372.70" y="182.90" font-size="11.3" text-anchor="end" fill="#000">10.3%</text>
<text x="306.4" y="260.4" font-size="8.3" fill="#111">10<tspan font-size="6.6" dy="-3.6" dx="0.3">0</tspan></text>
<text x="320.7" y="260.4" font-size="8.3" fill="#111">10<tspan font-size="6.6" dy="-3.6" dx="0.3">1</tspan></text>
<text x="336.0" y="260.4" font-size="8.3" fill="#111">10<tspan font-size="6.6" dy="-3.6" dx="0.3">2</tspan></text>
<text x="350.0" y="260.4" font-size="8.3" fill="#111">10<tspan font-size="6.6" dy="-3.6" dx="0.3">3</tspan></text>
<text x="365.2" y="260.4" font-size="8.3" fill="#111">10<tspan font-size="6.6" dy="-3.6" dx="0.3">4</tspan></text>
<line x1="309.50" y1="264.10" x2="370.00" y2="264.10" stroke="#000" stroke-width="1.55"/>
<path d="M375.30 264.10L369.50 261.20L369.50 267.00Z" fill="#000"/>
<text x="343.30" y="280.60" font-size="12.3" font-weight="bold" text-anchor="middle" fill="#000">CCR6-PE</text>
<path d="M49 325h1v1h-1zM45 337h1v1h-1zM56 337h1v1h-1zM53 338h1v1h-1zM54 339h1v1h-1zM40 340h1v1h-1zM52 340h1v1h-1z" fill="#555" filter="url(#sb)"/>
<path d="M51 325h1v1h-1zM48 326h1v1h-1zM48 327h1v1h-1zM56 327h1v1h-1zM46 329h2v1h-2zM57 329h1v1h-1zM46 330h1v1h-1zM57 331h1v1h-1zM57 332h1v1h-1zM54 336h1v1h-1zM50 337h1v1h-1zM52 337h1v1h-1z" fill="#222" filter="url(#sb)"/>
<path d="M51 327h4v1h-4zM48 328h7v1h-7zM48 329h8v1h-8zM47 330h10v1h-10zM48 331h9v1h-9zM47 332h9v1h-9zM47 333h9v1h-9zM48 334h8v1h-8zM50 335h4v1h-4zM52 336h1v1h-1z" fill="#000" filter="url(#sb)"/>
<path d="M30.6 387.3H33.4M33.4 387.3V390.1M31.7 381.4H33.4M38.2 387.3V389.0M31.7 378.0H33.4M41.1 387.3V389.0M31.7 375.6H33.4M43.1 387.3V389.0M31.7 373.7H33.4M44.6 387.3V389.0M31.7 372.2H33.4M45.9 387.3V389.0M31.7 370.9H33.4M47.0 387.3V389.0M31.7 369.7H33.4M47.9 387.3V389.0M31.7 368.7H33.4M48.7 387.3V389.0M30.6 367.9H33.4M49.5 387.3V390.1M31.7 362.0H33.4M54.3 387.3V389.0M31.7 358.6H33.4M57.1 387.3V389.0M31.7 356.1H33.4M59.2 387.3V389.0M31.7 354.3H33.4M60.7 387.3V389.0M31.7 352.7H33.4M62.0 387.3V389.0M31.7 351.4H33.4M63.1 387.3V389.0M31.7 350.3H33.4M64.0 387.3V389.0M31.7 349.3H33.4M64.8 387.3V389.0M30.6 348.4H33.4M65.6 387.3V390.1M31.7 342.5H33.4M70.4 387.3V389.0M31.7 339.1H33.4M73.2 387.3V389.0M31.7 336.7H33.4M75.2 387.3V389.0M31.7 334.8H33.4M76.8 387.3V389.0M31.7 333.3H33.4M78.1 387.3V389.0M31.7 332.0H33.4M79.1 387.3V389.0M31.7 330.8H33.4M80.1 387.3V389.0M31.7 329.8H33.4M80.9 387.3V389.0M30.6 328.9H33.4M81.6 387.3V390.1M31.7 323.1H33.4M86.5 387.3V389.0M31.7 319.7H33.4M89.3 387.3V389.0M31.7 317.2H33.4M91.3 387.3V389.0M31.7 315.4H33.4M92.9 387.3V389.0M31.7 313.8H33.4M94.1 387.3V389.0M31.7 312.5H33.4M95.2 387.3V389.0M31.7 311.4H33.4M96.1 387.3V389.0M31.7 310.4H33.4M97.0 387.3V389.0M30.6 309.5H33.4M97.7 387.3V390.1" stroke="#000" stroke-width="0.9" fill="none"/>
<line x1="57.50" y1="309.50" x2="57.50" y2="387.30" stroke="#000" stroke-width="1.2"/>
<line x1="33.40" y1="340.10" x2="97.70" y2="340.10" stroke="#000" stroke-width="1.2"/>
<rect x="33.40" y="309.50" width="64.30" height="77.80" stroke="#000" stroke-width="1.2" fill="none"/>
<line x1="33.40" y1="309.20" x2="33.40" y2="387.60" stroke="#000" stroke-width="1.6"/>
<text x="94.80" y="323.20" font-size="11.1" text-anchor="end" fill="#000">0.6%</text>
<text x="27.6" y="401.8" font-size="8.3" fill="#111">10<tspan font-size="6.6" dy="-3.6" dx="0.3">0</tspan></text>
<text x="41.9" y="401.8" font-size="8.3" fill="#111">10<tspan font-size="6.6" dy="-3.6" dx="0.3">1</tspan></text>
<text x="57.2" y="401.8" font-size="8.3" fill="#111">10<tspan font-size="6.6" dy="-3.6" dx="0.3">2</tspan></text>
<text x="71.2" y="401.8" font-size="8.3" fill="#111">10<tspan font-size="6.6" dy="-3.6" dx="0.3">3</tspan></text>
<text x="86.4" y="401.8" font-size="8.3" fill="#111">10<tspan font-size="6.6" dy="-3.6" dx="0.3">4</tspan></text>
<line x1="30.60" y1="407.50" x2="91.70" y2="407.50" stroke="#000" stroke-width="1.55"/>
<path d="M97.00 407.50L91.20 404.60L91.20 410.40Z" fill="#000"/>
<text x="66.70" y="423.30" font-size="12.3" font-weight="bold" text-anchor="middle" fill="#000">rat IgG2a-PE</text>
<path d="M129 324h1v1h-1zM122 326h1v1h-1zM132 326h2v1h-2zM135 326h1v1h-1zM126 327h1v1h-1zM138 327h1v1h-1zM147 327h1v1h-1zM136 328h2v1h-2zM148 328h1v1h-1zM154 328h1v1h-1zM139 329h1v1h-1zM150 329h1v1h-1zM125 330h1v1h-1zM146 330h1v1h-1zM148 330h1v1h-1zM140 331h1v1h-1zM142 332h1v1h-1zM147 332h1v1h-1zM122 333h1v1h-1zM139 333h1v1h-1zM141 333h1v1h-1zM152 334h1v1h-1zM139 335h2v1h-2zM138 336h2v1h-2zM124 337h1v1h-1zM130 339h1v1h-1zM127 343h1v1h-1z" fill="#555" filter="url(#sb)"/>
<path d="M131 327h1v1h-1zM128 328h2v1h-2zM133 328h1v1h-1zM135 328h1v1h-1zM128 329h1v1h-1zM135 329h1v1h-1zM125 331h2v1h-2zM137 331h1v1h-1zM125 334h1v1h-1zM137 334h1v1h-1zM126 335h1v1h-1zM137 335h1v1h-1zM127 336h1v1h-1zM137 336h1v1h-1zM127 337h2v1h-2zM135 337h1v1h-1zM128 338h1v1h-1zM133 338h3v1h-3z" fill="#222" filter="url(#sb)"/>
<path d="M131 328h2v1h-2zM129 329h4v1h-4zM127 330h1v1h-1zM129 330h7v1h-7zM127 331h9v1h-9zM126 332h12v1h-12zM127 333h10v1h-10zM127 334h10v1h-10zM127 335h10v1h-10zM128 336h7v1h-7zM130 337h1v1h-1zM132 337h2v1h-2z" fill="#000" filter="url(#sb)"/>
<path d="M110.4 386.8H113.2M113.2 386.8V389.6M111.5 381.0H113.2M118.1 386.8V388.5M111.5 377.6H113.2M121.0 386.8V388.5M111.5 375.2H113.2M123.0 386.8V388.5M111.5 373.4H113.2M124.6 386.8V388.5M111.5 371.9H113.2M125.8 386.8V388.5M111.5 370.6H113.2M126.9 386.8V388.5M111.5 369.5H113.2M127.9 386.8V388.5M111.5 368.5H113.2M128.7 386.8V388.5M110.4 367.6H113.2M129.4 386.8V389.6M111.5 361.8H113.2M134.3 386.8V388.5M111.5 358.4H113.2M137.2 386.8V388.5M111.5 356.0H113.2M139.2 386.8V388.5M111.5 354.2H113.2M140.8 386.8V388.5M111.5 352.7H113.2M142.1 386.8V388.5M111.5 351.4H113.2M143.2 386.8V388.5M111.5 350.3H113.2M144.1 386.8V388.5M111.5 349.3H113.2M145.0 386.8V388.5M110.4 348.4H113.2M145.7 386.8V389.6M111.5 342.6H113.2M150.6 386.8V388.5M111.5 339.2H113.2M153.5 386.8V388.5M111.5 336.8H113.2M155.5 386.8V388.5M111.5 335.0H113.2M157.1 386.8V388.5M111.5 333.5H113.2M158.3 386.8V388.5M111.5 332.2H113.2M159.4 386.8V388.5M111.5 331.1H113.2M160.4 386.8V388.5M111.5 330.1H113.2M161.2 386.8V388.5M110.4 329.2H113.2M161.9 386.8V389.6M111.5 323.4H113.2M166.8 386.8V388.5M111.5 320.0H113.2M169.7 386.8V388.5M111.5 317.6H113.2M171.7 386.8V388.5M111.5 315.8H113.2M173.3 386.8V388.5M111.5 314.3H113.2M174.6 386.8V388.5M111.5 313.0H113.2M175.7 386.8V388.5M111.5 311.9H113.2M176.6 386.8V388.5M111.5 310.9H113.2M177.5 386.8V388.5M110.4 310.0H113.2M178.2 386.8V389.6" stroke="#000" stroke-width="0.9" fill="none"/>
<line x1="138.80" y1="310.00" x2="138.80" y2="386.80" stroke="#000" stroke-width="1.2"/>
<line x1="113.20" y1="340.10" x2="178.20" y2="340.10" stroke="#000" stroke-width="1.2"/>
<rect x="113.20" y="310.00" width="65.00" height="76.80" stroke="#000" stroke-width="1.2" fill="none"/>
<line x1="113.20" y1="309.70" x2="113.20" y2="387.10" stroke="#000" stroke-width="1.6"/>
<text x="174.40" y="323.70" font-size="11.1" text-anchor="end" fill="#000">3.6%</text>
<text x="111.2" y="401.4" font-size="8.3" fill="#111">10<tspan font-size="6.6" dy="-3.6" dx="0.3">0</tspan></text>
<text x="125.5" y="401.4" font-size="8.3" fill="#111">10<tspan font-size="6.6" dy="-3.6" dx="0.3">1</tspan></text>
<text x="140.8" y="401.4" font-size="8.3" fill="#111">10<tspan font-size="6.6" dy="-3.6" dx="0.3">2</tspan></text>
<text x="154.8" y="401.4" font-size="8.3" fill="#111">10<tspan font-size="6.6" dy="-3.6" dx="0.3">3</tspan></text>
<text x="170.0" y="401.4" font-size="8.3" fill="#111">10<tspan font-size="6.6" dy="-3.6" dx="0.3">4</tspan></text>
<line x1="113.80" y1="407.30" x2="174.70" y2="407.30" stroke="#000" stroke-width="1.55"/>
<path d="M180.00 407.30L174.20 404.40L174.20 410.20Z" fill="#000"/>
<text x="151.70" y="423.50" font-size="12.3" font-weight="bold" text-anchor="middle" fill="#000">CCR10-PE</text>
<path d="M242 316h1v1h-1zM248 318h1v1h-1zM272 318h1v1h-1zM243 322h1v1h-1zM239 323h1v1h-1zM241 323h1v1h-1zM250 323h1v1h-1zM264 323h1v1h-1zM249 324h1v1h-1zM262 324h1v1h-1zM233 325h1v1h-1zM252 325h1v1h-1zM259 325h1v1h-1zM265 325h1v1h-1zM232 326h2v1h-2zM261 327h1v1h-1zM256 328h1v1h-1zM229 329h1v1h-1zM257 329h1v1h-1zM257 330h1v1h-1zM255 333h1v1h-1zM251 338h1v1h-1zM248 339h1v1h-1zM231 341h1v1h-1zM248 342h1v1h-1z" fill="#555" filter="url(#sb)"/>
<path d="M243 324h1v1h-1zM247 324h1v1h-1zM239 325h10v1h-10zM235 326h1v1h-1zM238 326h1v1h-1zM248 326h1v1h-1zM232 327h1v1h-1zM235 327h1v1h-1zM250 327h1v1h-1zM232 329h1v1h-1zM229 330h3v1h-3zM252 330h1v1h-1zM254 330h1v1h-1zM229 331h1v1h-1zM252 331h1v1h-1zM254 331h1v1h-1zM251 333h1v1h-1zM229 334h1v1h-1zM250 334h1v1h-1zM252 334h1v1h-1zM228 335h1v1h-1zM230 335h1v1h-1zM249 335h1v1h-1zM252 335h1v1h-1zM228 336h1v1h-1zM248 336h1v1h-1zM231 337h1v1h-1zM247 337h2v1h-2zM230 338h1v1h-1zM233 338h1v1h-1zM243 338h1v1h-1zM246 338h1v1h-1zM232 339h1v1h-1zM237 339h1v1h-1zM243 339h1v1h-1zM245 339h1v1h-1z" fill="#222" filter="url(#sb)"/>
<path d="M239 326h1v1h-1zM242 326h1v1h-1zM244 326h3v1h-3zM236 327h2v1h-2zM239 327h8v1h-8zM249 327h1v1h-1zM235 328h14v1h-14zM250 328h1v1h-1zM234 329h18v1h-18zM232 330h18v1h-18zM251 330h1v1h-1zM231 331h21v1h-21zM232 332h18v1h-18zM251 332h1v1h-1zM231 333h18v1h-18zM230 334h18v1h-18zM249 334h1v1h-1zM231 335h17v1h-17zM231 336h17v1h-17zM233 337h1v1h-1zM235 337h11v1h-11zM236 338h2v1h-2zM239 338h4v1h-4z" fill="#000" filter="url(#sb)"/>
<path d="M224.6 386.8H227.4M227.4 386.8V389.6M225.7 381.0H227.4M232.4 386.8V388.5M225.7 377.6H227.4M235.3 386.8V388.5M225.7 375.2H227.4M237.3 386.8V388.5M225.7 373.3H227.4M238.9 386.8V388.5M225.7 371.8H227.4M240.2 386.8V388.5M225.7 370.5H227.4M241.3 386.8V388.5M225.7 369.3H227.4M242.3 386.8V388.5M225.7 368.4H227.4M243.1 386.8V388.5M224.6 367.5H227.4M243.9 386.8V389.6M225.7 361.7H227.4M248.9 386.8V388.5M225.7 358.3H227.4M251.8 386.8V388.5M225.7 355.8H227.4M253.8 386.8V388.5M225.7 354.0H227.4M255.4 386.8V388.5M225.7 352.4H227.4M256.7 386.8V388.5M225.7 351.1H227.4M257.8 386.8V388.5M225.7 350.0H227.4M258.8 386.8V388.5M225.7 349.0H227.4M259.6 386.8V388.5M224.6 348.1H227.4M260.4 386.8V389.6M225.7 342.3H227.4M265.4 386.8V388.5M225.7 338.9H227.4M268.3 386.8V388.5M225.7 336.5H227.4M270.3 386.8V388.5M225.7 334.6H227.4M271.9 386.8V388.5M225.7 333.1H227.4M273.2 386.8V388.5M225.7 331.8H227.4M274.3 386.8V388.5M225.7 330.7H227.4M275.3 386.8V388.5M225.7 329.7H227.4M276.1 386.8V388.5M224.6 328.8H227.4M276.9 386.8V389.6M225.7 323.0H227.4M281.9 386.8V388.5M225.7 319.6H227.4M284.8 386.8V388.5M225.7 317.2H227.4M286.8 386.8V388.5M225.7 315.3H227.4M288.4 386.8V388.5M225.7 313.8H227.4M289.7 386.8V388.5M225.7 312.5H227.4M290.8 386.8V388.5M225.7 311.4H227.4M291.8 386.8V388.5M225.7 310.4H227.4M292.6 386.8V388.5M224.6 309.5H227.4M293.4 386.8V389.6" stroke="#000" stroke-width="0.9" fill="none"/>
<line x1="251.70" y1="309.50" x2="251.70" y2="386.80" stroke="#000" stroke-width="1.2"/>
<line x1="227.40" y1="340.20" x2="293.40" y2="340.20" stroke="#000" stroke-width="1.2"/>
<rect x="227.40" y="309.50" width="66.00" height="77.30" stroke="#000" stroke-width="1.2" fill="none"/>
<line x1="227.40" y1="309.20" x2="227.40" y2="387.10" stroke="#000" stroke-width="1.6"/>
<text x="288.90" y="323.20" font-size="11.1" text-anchor="end" fill="#000">0.5%</text>
<text x="222.3" y="401.4" font-size="8.3" fill="#111">10<tspan font-size="6.6" dy="-3.6" dx="0.3">0</tspan></text>
<text x="236.6" y="401.4" font-size="8.3" fill="#111">10<tspan font-size="6.6" dy="-3.6" dx="0.3">1</tspan></text>
<text x="251.9" y="401.4" font-size="8.3" fill="#111">10<tspan font-size="6.6" dy="-3.6" dx="0.3">2</tspan></text>
<text x="265.9" y="401.4" font-size="8.3" fill="#111">10<tspan font-size="6.6" dy="-3.6" dx="0.3">3</tspan></text>
<text x="281.1" y="401.4" font-size="8.3" fill="#111">10<tspan font-size="6.6" dy="-3.6" dx="0.3">4</tspan></text>
<line x1="223.50" y1="406.60" x2="287.00" y2="406.60" stroke="#000" stroke-width="1.55"/>
<path d="M292.30 406.60L286.50 403.70L286.50 409.50Z" fill="#000"/>
<text x="258.30" y="423.30" font-size="12.3" font-weight="bold" text-anchor="middle" fill="#000">rat IgG2a-PE</text>
<path d="M346 322h1v1h-1zM340 323h1v1h-1zM351 323h1v1h-1zM323 324h1v1h-1zM326 324h1v1h-1zM332 324h1v1h-1zM358 324h1v1h-1zM369 324h1v1h-1zM318 325h1v1h-1zM323 325h1v1h-1zM325 325h1v1h-1zM329 325h1v1h-1zM334 325h1v1h-1zM340 325h1v1h-1zM343 325h1v1h-1zM356 325h1v1h-1zM358 325h2v1h-2zM364 325h1v1h-1zM316 326h2v1h-2zM347 326h1v1h-1zM350 327h1v1h-1zM353 327h1v1h-1zM359 327h1v1h-1zM346 328h1v1h-1zM352 328h1v1h-1zM355 328h1v1h-1zM351 329h1v1h-1zM363 329h1v1h-1zM355 330h1v1h-1zM357 330h2v1h-2zM360 331h1v1h-1zM355 332h1v1h-1zM361 332h1v1h-1zM364 332h1v1h-1zM362 333h1v1h-1zM348 334h2v1h-2zM349 336h1v1h-1zM356 336h1v1h-1zM344 337h2v1h-2zM347 337h1v1h-1zM352 337h1v1h-1zM313 338h1v1h-1zM342 338h1v1h-1zM346 338h1v1h-1zM355 338h1v1h-1zM334 339h2v1h-2zM322 340h1v1h-1zM326 340h1v1h-1zM330 340h1v1h-1zM343 341h1v1h-1zM323 342h1v1h-1z" fill="#555" filter="url(#sb)"/>
<path d="M321 326h1v1h-1zM324 326h3v1h-3zM334 326h1v1h-1zM318 327h2v1h-2zM321 327h2v1h-2zM335 327h1v1h-1zM337 328h3v1h-3zM315 329h1v1h-1zM317 329h1v1h-1zM343 329h3v1h-3zM342 330h1v1h-1zM344 330h2v1h-2zM347 330h1v1h-1zM343 331h1v1h-1zM314 332h2v1h-2zM343 332h1v1h-1zM347 332h1v1h-1zM315 333h1v1h-1zM344 333h2v1h-2zM343 334h2v1h-2zM315 335h1v1h-1zM344 335h1v1h-1zM315 336h2v1h-2zM318 336h1v1h-1zM339 336h2v1h-2zM344 336h1v1h-1zM320 337h1v1h-1zM336 337h3v1h-3zM340 337h1v1h-1zM319 338h1v1h-1zM325 338h1v1h-1zM330 338h1v1h-1zM335 338h2v1h-2zM323 339h1v1h-1zM327 339h1v1h-1zM332 339h1v1h-1z" fill="#222" filter="url(#sb)"/>
<path d="M326 327h4v1h-4zM321 328h12v1h-12zM336 328h1v1h-1zM319 329h17v1h-17zM338 329h1v1h-1zM317 330h23v1h-23zM341 330h1v1h-1zM317 331h23v1h-23zM341 331h2v1h-2zM317 332h25v1h-25zM318 333h25v1h-25zM317 334h23v1h-23zM341 334h2v1h-2zM318 335h21v1h-21zM321 336h16v1h-16zM322 337h7v1h-7zM330 337h3v1h-3zM334 337h1v1h-1z" fill="#000" filter="url(#sb)"/>
<path d="M308.4 386.8H311.2M311.2 386.8V389.6M309.5 381.0H311.2M316.1 386.8V388.5M309.5 377.6H311.2M319.0 386.8V388.5M309.5 375.2H311.2M321.1 386.8V388.5M309.5 373.3H311.2M322.6 386.8V388.5M309.5 371.8H311.2M323.9 386.8V388.5M309.5 370.5H311.2M325.0 386.8V388.5M309.5 369.3H311.2M326.0 386.8V388.5M309.5 368.4H311.2M326.8 386.8V388.5M308.4 367.5H311.2M327.6 386.8V389.6M309.5 361.7H311.2M332.5 386.8V388.5M309.5 358.3H311.2M335.4 386.8V388.5M309.5 355.8H311.2M337.4 386.8V388.5M309.5 354.0H311.2M339.0 386.8V388.5M309.5 352.4H311.2M340.3 386.8V388.5M309.5 351.1H311.2M341.4 386.8V388.5M309.5 350.0H311.2M342.4 386.8V388.5M309.5 349.0H311.2M343.2 386.8V388.5M308.4 348.1H311.2M343.9 386.8V389.6M309.5 342.3H311.2M348.9 386.8V388.5M309.5 338.9H311.2M351.8 386.8V388.5M309.5 336.5H311.2M353.8 386.8V388.5M309.5 334.6H311.2M355.4 386.8V388.5M309.5 333.1H311.2M356.7 386.8V388.5M309.5 331.8H311.2M357.8 386.8V388.5M309.5 330.7H311.2M358.7 386.8V388.5M309.5 329.7H311.2M359.6 386.8V388.5M308.4 328.8H311.2M360.3 386.8V389.6M309.5 323.0H311.2M365.3 386.8V388.5M309.5 319.6H311.2M368.1 386.8V388.5M309.5 317.2H311.2M370.2 386.8V388.5M309.5 315.3H311.2M371.8 386.8V388.5M309.5 313.8H311.2M373.1 386.8V388.5M309.5 312.5H311.2M374.2 386.8V388.5M309.5 311.4H311.2M375.1 386.8V388.5M309.5 310.4H311.2M376.0 386.8V388.5M308.4 309.5H311.2M376.7 386.8V389.6" stroke="#000" stroke-width="0.9" fill="none"/>
<line x1="335.50" y1="309.50" x2="335.50" y2="386.80" stroke="#000" stroke-width="1.2"/>
<line x1="311.20" y1="339.60" x2="376.70" y2="339.60" stroke="#000" stroke-width="1.2"/>
<rect x="311.20" y="309.50" width="65.50" height="77.30" stroke="#000" stroke-width="1.2" fill="none"/>
<line x1="311.20" y1="309.20" x2="311.20" y2="387.10" stroke="#000" stroke-width="1.6"/>
<text x="373.80" y="323.20" font-size="11.3" text-anchor="end" fill="#000">12.7%</text>
<text x="306.5" y="401.4" font-size="8.3" fill="#111">10<tspan font-size="6.6" dy="-3.6" dx="0.3">0</tspan></text>
<text x="320.8" y="401.4" font-size="8.3" fill="#111">10<tspan font-size="6.6" dy="-3.6" dx="0.3">1</tspan></text>
<text x="336.1" y="401.4" font-size="8.3" fill="#111">10<tspan font-size="6.6" dy="-3.6" dx="0.3">2</tspan></text>
<text x="350.1" y="401.4" font-size="8.3" fill="#111">10<tspan font-size="6.6" dy="-3.6" dx="0.3">3</tspan></text>
<text x="365.3" y="401.4" font-size="8.3" fill="#111">10<tspan font-size="6.6" dy="-3.6" dx="0.3">4</tspan></text>
<line x1="309.00" y1="406.60" x2="371.70" y2="406.60" stroke="#000" stroke-width="1.55"/>
<path d="M377.00 406.60L371.20 403.70L371.20 409.50Z" fill="#000"/>
<text x="341.30" y="423.30" font-size="12.3" font-weight="bold" text-anchor="middle" fill="#000">CCR10-PE</text>
<line x1="20.40" y1="385.50" x2="20.40" y2="175.90" stroke="#000" stroke-width="1.4"/>
<path d="M20.40 170.80L17.60 176.40L23.20 176.40Z" fill="#000"/>
<text x="9.90" y="283.00" font-size="12" font-weight="bold" text-anchor="middle" fill="#000" transform="rotate(-90 9.9 283)">CD123-PeCy5</text>
<line x1="213.30" y1="385.50" x2="213.30" y2="175.90" stroke="#000" stroke-width="1.4"/>
<path d="M213.30 170.80L210.50 176.40L216.10 176.40Z" fill="#000"/>
<text x="208.10" y="283.00" font-size="12" font-weight="bold" text-anchor="middle" fill="#000" transform="rotate(-90 208.1 283)">CD123-PeCy5</text>
<line x1="439.6" y1="161.39999999999998" x2="439.6" y2="262.4" stroke="#999" stroke-width="1.3"/>
<line x1="437.6" y1="262.4" x2="519" y2="262.4" stroke="#444" stroke-width="1.5"/>
<text x="429.80" y="266.70" font-size="12.8" text-anchor="middle" fill="#000">0</text>
<text x="429.80" y="246.70" font-size="12.8" text-anchor="middle" fill="#000">4</text>
<text x="429.80" y="226.70" font-size="12.8" text-anchor="middle" fill="#000">8</text>
<text x="429.80" y="206.70" font-size="12.8" text-anchor="middle" fill="#000">12</text>
<text x="429.80" y="186.70" font-size="12.8" text-anchor="middle" fill="#000">16</text>
<text x="429.80" y="166.70" font-size="12.8" text-anchor="middle" fill="#000">20</text>
<text x="415.00" y="210.10" font-size="12.8" font-weight="bold" text-anchor="middle" fill="#000" transform="rotate(-90 415.0 210.09999999999997)">% CCR6+ pDC</text>
<path d="M460.5 171.5V163.5H495.8V171.5" stroke="#111" stroke-width="1.1" fill="none"/>
<text x="479.05" y="158.60" font-size="10.6" text-anchor="middle" fill="#000">p=0.004</text>
<circle cx="459.3" cy="210.8" r="2.8" fill="#fff" stroke="#000" stroke-width="1.2"/>
<circle cx="453.8" cy="238.8" r="2.8" fill="#fff" stroke="#000" stroke-width="1.2"/>
<circle cx="459.5" cy="236.5" r="2.8" fill="#fff" stroke="#000" stroke-width="1.2"/>
<circle cx="453" cy="246.2" r="2.8" fill="#fff" stroke="#000" stroke-width="1.2"/>
<circle cx="465" cy="246.2" r="2.8" fill="#fff" stroke="#000" stroke-width="1.2"/>
<circle cx="459.5" cy="248.5" r="2.8" fill="#fff" stroke="#000" stroke-width="1.2"/>
<circle cx="459.5" cy="254.7" r="2.8" fill="#fff" stroke="#000" stroke-width="1.2"/>
<circle cx="454.2" cy="260.5" r="2.8" fill="#fff" stroke="#000" stroke-width="1.2"/>
<circle cx="460.5" cy="260.5" r="2.8" fill="#fff" stroke="#000" stroke-width="1.2"/>
<circle cx="466.2" cy="260" r="2.8" fill="#fff" stroke="#000" stroke-width="1.2"/>
<circle cx="496.5" cy="180.8" r="3.4" fill="#000"/>
<circle cx="501.5" cy="188.8" r="3.4" fill="#444"/>
<circle cx="491.6" cy="210.8" r="3.4" fill="#000"/>
<circle cx="498.8" cy="210.4" r="3.4" fill="#000"/>
<circle cx="505.5" cy="210.4" r="3.4" fill="#000"/>
<circle cx="501.5" cy="222" r="3.4" fill="#000"/>
<circle cx="494.2" cy="228.4" r="3.4" fill="#000"/>
<circle cx="501.5" cy="236.5" r="3.4" fill="#000"/>
<circle cx="495" cy="246.2" r="3.4" fill="#000"/>
<circle cx="501.5" cy="246.2" r="3.4" fill="#000"/>
<line x1="449.00" y1="249.20" x2="473.80" y2="249.20" stroke="#000" stroke-width="2"/>
<line x1="487.70" y1="218.00" x2="513.80" y2="218.00" stroke="#000" stroke-width="2"/>
<text x="456.60" y="278.20" font-size="12" font-weight="bold" text-anchor="middle" fill="#000">Blood</text>
<text x="499.60" y="278.20" font-size="12" font-weight="bold" text-anchor="middle" fill="#000">Tonsil</text>
<line x1="438.0" y1="308.4" x2="438.0" y2="409.0" stroke="#999" stroke-width="1.3"/>
<line x1="436.0" y1="409.0" x2="516.5" y2="409.0" stroke="#444" stroke-width="1.5"/>
<text x="428.80" y="414.30" font-size="12.8" text-anchor="middle" fill="#000">0</text>
<text x="428.80" y="394.38" font-size="12.8" text-anchor="middle" fill="#000">4</text>
<text x="428.80" y="374.46" font-size="12.8" text-anchor="middle" fill="#000">8</text>
<text x="428.80" y="354.54" font-size="12.8" text-anchor="middle" fill="#000">12</text>
<text x="428.80" y="334.62" font-size="12.8" text-anchor="middle" fill="#000">16</text>
<text x="428.80" y="314.70" font-size="12.8" text-anchor="middle" fill="#000">20</text>
<text x="415.00" y="356.90" font-size="12.4" font-weight="bold" text-anchor="middle" fill="#000" transform="rotate(-90 415.0 356.9)">% CCR10+ pDC</text>
<path d="M461.6 318.5V310H498V318.5" stroke="#111" stroke-width="1.1" fill="none"/>
<text x="480.70" y="305.10" font-size="10.6" text-anchor="middle" fill="#000">p=0.007</text>
<circle cx="460.5" cy="366.2" r="2.8" fill="#fff" stroke="#000" stroke-width="1.2"/>
<circle cx="453.5" cy="377.3" r="2.8" fill="#fff" stroke="#000" stroke-width="1.2"/>
<circle cx="465.8" cy="376.2" r="2.8" fill="#fff" stroke="#000" stroke-width="1.2"/>
<circle cx="459.5" cy="381.9" r="2.8" fill="#fff" stroke="#000" stroke-width="1.2"/>
<circle cx="453.5" cy="387.2" r="2.8" fill="#fff" stroke="#000" stroke-width="1.2"/>
<circle cx="468" cy="387.2" r="2.8" fill="#fff" stroke="#000" stroke-width="1.2"/>
<circle cx="460" cy="390" r="2.8" fill="#fff" stroke="#000" stroke-width="1.2"/>
<circle cx="453.5" cy="393" r="2.8" fill="#fff" stroke="#000" stroke-width="1.2"/>
<circle cx="468" cy="392.3" r="2.8" fill="#fff" stroke="#000" stroke-width="1.2"/>
<circle cx="460.5" cy="401.5" r="2.8" fill="#fff" stroke="#000" stroke-width="1.2"/>
<circle cx="498" cy="325.1" r="3.4" fill="#000"/>
<circle cx="490" cy="332" r="3.4" fill="#000"/>
<circle cx="503.4" cy="331" r="3.4" fill="#000"/>
<circle cx="489.5" cy="344.7" r="3.4" fill="#000"/>
<circle cx="502.2" cy="344.7" r="3.4" fill="#000"/>
<circle cx="490" cy="355.4" r="3.4" fill="#000"/>
<circle cx="498" cy="355.4" r="3.4" fill="#444"/>
<circle cx="502.2" cy="360.7" r="3.4" fill="#000"/>
<circle cx="497" cy="384.7" r="3.4" fill="#000"/>
<circle cx="498.5" cy="405.7" r="3.4" fill="#000"/>
<line x1="446.20" y1="388.40" x2="475.70" y2="388.40" stroke="#000" stroke-width="2"/>
<line x1="481.20" y1="352.40" x2="510.30" y2="352.40" stroke="#000" stroke-width="2"/>
<text x="460.30" y="425.00" font-size="12" font-weight="bold" text-anchor="middle" fill="#000">Blood</text>
<text x="502.00" y="425.00" font-size="12" font-weight="bold" text-anchor="middle" fill="#000">Tonsil</text>
<text x="53.5" y="457.3" font-size="10.9" textLength="71.0" lengthAdjust="spacingAndGlyphs">Gate: BDCA2</text>
<text x="124.8" y="453.6" font-size="7.2">+</text>
<text x="133.5" y="457.3" font-size="10.9" textLength="27.6" lengthAdjust="spacingAndGlyphs">cells</text>
<path d="M105 487h1v1h-1zM108 487h1v1h-1zM107 491h1v1h-1zM93 496h1v1h-1zM106 498h1v1h-1zM109 500h1v1h-1zM103 501h1v1h-1zM80 504h1v1h-1zM90 505h2v1h-2zM79 506h1v1h-1zM79 508h1v1h-1zM93 508h1v1h-1zM86 509h1v1h-1zM86 510h1v1h-1zM85 511h1v1h-1zM83 512h1v1h-1zM86 512h1v1h-1zM108 513h1v1h-1zM86 514h1v1h-1zM84 515h1v1h-1zM82 516h1v1h-1zM82 517h1v1h-1zM88 517h1v1h-1zM78 519h1v1h-1zM84 519h1v1h-1zM75 520h1v1h-1zM81 520h1v1h-1zM89 520h1v1h-1zM83 521h2v1h-2zM88 521h1v1h-1zM69 522h1v1h-1zM73 522h1v1h-1zM78 522h1v1h-1zM65 523h1v1h-1zM69 523h1v1h-1zM87 523h1v1h-1zM74 524h1v1h-1zM82 524h3v1h-3zM93 524h1v1h-1zM96 524h1v1h-1zM75 525h1v1h-1zM73 526h1v1h-1zM100 526h1v1h-1zM69 527h1v1h-1zM67 529h1v1h-1zM67 530h1v1h-1zM69 530h1v1h-1zM65 532h1v1h-1zM67 532h1v1h-1zM64 536h1v1h-1zM64 540h1v1h-1zM64 544h1v1h-1zM63 548h1v1h-1zM66 549h1v1h-1zM64 550h3v1h-3zM98 550h1v1h-1zM65 551h1v1h-1zM67 552h2v1h-2zM68 553h1v1h-1z" fill="#555" filter="url(#sb)"/>
<path d="M81 526h1v1h-1zM86 526h1v1h-1zM75 527h1v1h-1zM78 527h1v1h-1zM80 527h2v1h-2zM84 527h1v1h-1zM87 527h1v1h-1zM79 528h2v1h-2zM82 528h1v1h-1zM86 528h1v1h-1zM75 529h1v1h-1zM79 529h1v1h-1zM81 529h2v1h-2zM84 529h1v1h-1zM86 529h1v1h-1zM89 529h1v1h-1zM71 530h2v1h-2zM77 530h1v1h-1zM79 530h1v1h-1zM81 530h1v1h-1zM85 530h1v1h-1zM87 530h2v1h-2zM70 531h1v1h-1zM72 531h1v1h-1zM75 531h1v1h-1zM88 531h1v1h-1zM68 532h2v1h-2zM75 532h1v1h-1zM73 533h2v1h-2zM91 533h1v1h-1zM70 534h1v1h-1zM73 534h1v1h-1zM68 535h1v1h-1zM72 535h2v1h-2zM92 535h1v1h-1zM68 536h1v1h-1zM70 536h2v1h-2zM69 537h2v1h-2zM72 537h1v1h-1zM66 538h1v1h-1zM69 538h1v1h-1zM71 538h1v1h-1zM68 539h3v1h-3zM65 540h2v1h-2zM68 540h1v1h-1zM70 540h1v1h-1zM68 541h1v1h-1zM70 541h2v1h-2zM68 542h3v1h-3zM65 544h1v1h-1zM70 544h3v1h-3zM69 545h2v1h-2zM72 545h1v1h-1zM92 545h1v1h-1zM69 546h1v1h-1zM73 546h1v1h-1zM91 546h2v1h-2zM69 547h1v1h-1zM73 547h2v1h-2zM90 547h3v1h-3zM66 548h1v1h-1zM68 548h2v1h-2zM71 548h4v1h-4zM91 548h2v1h-2zM74 549h2v1h-2zM78 549h1v1h-1zM86 549h2v1h-2zM91 549h1v1h-1zM77 550h4v1h-4zM82 550h2v1h-2zM85 550h5v1h-5zM70 551h2v1h-2zM73 551h1v1h-1zM76 551h1v1h-1zM80 551h1v1h-1zM83 551h1v1h-1zM71 552h1v1h-1zM77 552h4v1h-4zM87 552h1v1h-1zM78 553h1v1h-1zM82 553h1v1h-1zM84 553h1v1h-1zM73 554h1v1h-1zM78 554h2v1h-2zM82 554h1v1h-1z" fill="#222" filter="url(#sb)"/>
<path d="M82 530h1v1h-1zM84 530h1v1h-1zM78 531h1v1h-1zM81 531h2v1h-2zM84 531h2v1h-2zM76 532h2v1h-2zM79 532h7v1h-7zM87 532h3v1h-3zM76 533h1v1h-1zM78 533h10v1h-10zM90 533h1v1h-1zM75 534h10v1h-10zM86 534h5v1h-5zM74 535h13v1h-13zM88 535h2v1h-2zM91 535h1v1h-1zM73 536h4v1h-4zM78 536h11v1h-11zM91 536h1v1h-1zM73 537h20v1h-20zM75 538h1v1h-1zM77 538h15v1h-15zM73 539h20v1h-20zM75 540h16v1h-16zM92 540h1v1h-1zM72 541h1v1h-1zM74 541h18v1h-18zM72 542h1v1h-1zM74 542h2v1h-2zM77 542h14v1h-14zM92 542h1v1h-1zM72 543h1v1h-1zM74 543h3v1h-3zM78 543h11v1h-11zM90 543h2v1h-2zM73 544h3v1h-3zM77 544h9v1h-9zM87 544h5v1h-5zM73 545h1v1h-1zM76 545h3v1h-3zM80 545h2v1h-2zM83 545h6v1h-6zM74 546h1v1h-1zM76 546h4v1h-4zM81 546h4v1h-4zM86 546h2v1h-2zM90 546h1v1h-1zM75 547h1v1h-1zM77 547h10v1h-10zM88 547h2v1h-2zM76 548h1v1h-1zM79 548h4v1h-4zM87 548h1v1h-1zM79 549h1v1h-1zM81 549h2v1h-2zM85 549h1v1h-1z" fill="#000" filter="url(#sb)"/>
<path d="M58.8 555.8H61.6M61.6 555.8V558.6M59.9 549.1H61.6M67.7 555.8V557.5M59.9 545.1H61.6M71.3 555.8V557.5M59.9 542.3H61.6M73.8 555.8V557.5M59.9 540.2H61.6M75.8 555.8V557.5M59.9 538.4H61.6M77.4 555.8V557.5M59.9 536.9H61.6M78.7 555.8V557.5M59.9 535.6H61.6M79.9 555.8V557.5M59.9 534.5H61.6M80.9 555.8V557.5M58.8 533.4H61.6M81.8 555.8V558.6M59.9 526.7H61.6M87.9 555.8V557.5M59.9 522.8H61.6M91.5 555.8V557.5M59.9 520.0H61.6M94.0 555.8V557.5M59.9 517.8H61.6M96.0 555.8V557.5M59.9 516.1H61.6M97.6 555.8V557.5M59.9 514.6H61.6M99.0 555.8V557.5M59.9 513.3H61.6M100.1 555.8V557.5M59.9 512.1H61.6M101.2 555.8V557.5M58.8 511.1H61.6M102.1 555.8V558.6M59.9 504.4H61.6M108.2 555.8V557.5M59.9 500.4H61.6M111.8 555.8V557.5M59.9 497.6H61.6M114.3 555.8V557.5M59.9 495.5H61.6M116.3 555.8V557.5M59.9 493.7H61.6M117.9 555.8V557.5M59.9 492.2H61.6M119.2 555.8V557.5M59.9 490.9H61.6M120.4 555.8V557.5M59.9 489.8H61.6M121.4 555.8V557.5M58.8 488.8H61.6M122.3 555.8V558.6M59.9 482.0H61.6M128.4 555.8V557.5M59.9 478.1H61.6M132.0 555.8V557.5M59.9 475.3H61.6M134.5 555.8V557.5M59.9 473.1H61.6M136.5 555.8V557.5M59.9 471.4H61.6M138.1 555.8V557.5M59.9 469.9H61.6M139.5 555.8V557.5M59.9 468.6H61.6M140.6 555.8V557.5M59.9 467.4H61.6M141.7 555.8V557.5M58.8 466.4H61.6M142.6 555.8V558.6" stroke="#000" stroke-width="0.9" fill="none"/>
<line x1="93.50" y1="466.40" x2="93.50" y2="555.80" stroke="#000" stroke-width="1.2"/>
<line x1="61.60" y1="527.10" x2="142.60" y2="527.10" stroke="#000" stroke-width="1.2"/>
<rect x="61.60" y="466.40" width="81.00" height="89.40" stroke="#000" stroke-width="1.2" fill="none"/>
<line x1="61.60" y1="466.10" x2="61.60" y2="556.10" stroke="#000" stroke-width="1.6"/>
<text x="139.60" y="477.80" font-size="10.2" font-weight="bold" text-anchor="end" fill="#000">0.96%</text>
<text x="52.20" y="512.20" font-size="12" font-weight="bold" text-anchor="middle" fill="#000" transform="rotate(-90 52.2 512.2)">mIgG1-PECy5</text>
<text x="102.90" y="575.00" font-size="12" font-weight="bold" text-anchor="middle" fill="#000">mIgG1-PE</text>
<path d="M103 605h1v1h-1zM116 606h1v1h-1zM106 608h1v1h-1zM113 609h1v1h-1zM101 613h1v1h-1zM112 613h1v1h-1zM102 614h1v1h-1zM127 614h1v1h-1zM94 615h1v1h-1zM108 615h2v1h-2zM114 615h1v1h-1zM109 616h1v1h-1zM108 617h1v1h-1zM111 617h1v1h-1zM113 617h1v1h-1zM120 617h1v1h-1zM124 617h1v1h-1zM102 618h1v1h-1zM108 618h1v1h-1zM114 618h1v1h-1zM119 618h1v1h-1zM121 618h1v1h-1zM96 619h1v1h-1zM98 619h1v1h-1zM103 619h1v1h-1zM111 619h1v1h-1zM114 619h1v1h-1zM116 619h1v1h-1zM120 619h1v1h-1zM100 620h1v1h-1zM98 621h1v1h-1zM92 622h1v1h-1zM99 622h1v1h-1zM118 622h1v1h-1zM121 622h1v1h-1zM124 622h1v1h-1zM124 623h1v1h-1zM88 624h1v1h-1zM92 624h1v1h-1zM99 624h1v1h-1zM116 624h1v1h-1zM96 625h1v1h-1zM116 625h1v1h-1zM96 626h1v1h-1zM114 626h1v1h-1zM118 626h1v1h-1zM83 627h1v1h-1zM86 627h1v1h-1zM89 627h1v1h-1zM93 627h1v1h-1zM96 627h1v1h-1zM100 627h1v1h-1zM115 627h1v1h-1zM117 627h1v1h-1zM91 628h1v1h-1zM95 628h1v1h-1zM101 628h1v1h-1zM114 628h1v1h-1zM101 629h1v1h-1zM116 629h1v1h-1zM110 630h1v1h-1zM116 630h1v1h-1zM125 630h1v1h-1zM79 631h1v1h-1zM85 631h1v1h-1zM106 631h1v1h-1zM99 632h1v1h-1zM102 632h1v1h-1zM104 632h1v1h-1zM91 633h1v1h-1zM103 633h1v1h-1zM105 633h1v1h-1zM111 633h1v1h-1zM119 633h1v1h-1zM124 633h1v1h-1zM107 634h1v1h-1zM117 634h1v1h-1zM121 634h1v1h-1zM79 635h1v1h-1zM81 635h1v1h-1zM89 635h1v1h-1zM98 635h1v1h-1zM92 636h1v1h-1zM105 636h1v1h-1zM109 636h1v1h-1zM94 638h2v1h-2zM101 638h1v1h-1zM103 638h1v1h-1zM106 638h1v1h-1zM82 639h1v1h-1zM84 639h1v1h-1zM87 639h1v1h-1zM98 639h1v1h-1zM108 639h1v1h-1zM111 639h1v1h-1zM116 639h1v1h-1zM77 640h1v1h-1zM80 640h1v1h-1zM82 640h1v1h-1zM87 640h1v1h-1zM97 640h1v1h-1zM112 640h1v1h-1zM124 640h1v1h-1zM84 641h1v1h-1zM89 641h2v1h-2zM101 641h1v1h-1zM75 642h1v1h-1zM77 642h3v1h-3zM82 642h1v1h-1zM87 642h1v1h-1zM94 642h1v1h-1zM98 642h1v1h-1zM107 642h1v1h-1zM104 643h1v1h-1zM96 644h1v1h-1zM65 645h1v1h-1zM72 645h1v1h-1zM72 646h1v1h-1zM115 647h1v1h-1zM65 650h1v1h-1zM67 650h1v1h-1zM63 651h1v1h-1zM66 651h1v1h-1zM66 653h1v1h-1zM101 653h1v1h-1zM63 654h1v1h-1zM105 654h1v1h-1zM67 656h1v1h-1zM65 659h1v1h-1zM67 661h1v1h-1zM65 665h1v1h-1zM67 665h1v1h-1zM63 666h1v1h-1zM67 666h1v1h-1zM99 666h1v1h-1zM67 667h1v1h-1zM66 668h2v1h-2zM67 669h1v1h-1zM69 669h1v1h-1zM69 671h1v1h-1zM96 673h1v1h-1zM69 674h1v1h-1zM72 674h2v1h-2zM92 674h2v1h-2zM70 675h1v1h-1zM73 675h1v1h-1zM68 676h1v1h-1zM73 676h1v1h-1zM90 676h1v1h-1zM94 676h1v1h-1z" fill="#555" filter="url(#sb)"/>
<path d="M109 620h1v1h-1zM112 620h1v1h-1zM106 621h1v1h-1zM110 621h1v1h-1zM102 622h1v1h-1zM109 622h1v1h-1zM102 623h2v1h-2zM106 623h2v1h-2zM111 623h1v1h-1zM105 624h2v1h-2zM108 624h1v1h-1zM112 624h1v1h-1zM102 625h1v1h-1zM107 625h3v1h-3zM103 626h2v1h-2zM110 626h1v1h-1zM112 626h1v1h-1zM103 627h1v1h-1zM109 627h1v1h-1zM111 627h1v1h-1zM102 628h2v1h-2zM110 629h1v1h-1zM104 630h3v1h-3zM108 630h2v1h-2zM76 643h1v1h-1zM79 643h1v1h-1zM81 643h1v1h-1zM84 643h1v1h-1zM89 643h1v1h-1zM92 643h1v1h-1zM78 644h1v1h-1zM80 644h1v1h-1zM82 644h1v1h-1zM85 644h1v1h-1zM92 644h1v1h-1zM74 645h1v1h-1zM77 645h3v1h-3zM81 645h1v1h-1zM83 645h1v1h-1zM85 645h1v1h-1zM87 645h3v1h-3zM91 645h1v1h-1zM94 645h1v1h-1zM77 646h2v1h-2zM80 646h1v1h-1zM88 646h1v1h-1zM90 646h1v1h-1zM92 646h3v1h-3zM72 647h1v1h-1zM77 647h3v1h-3zM95 647h1v1h-1zM74 648h1v1h-1zM78 648h1v1h-1zM90 648h1v1h-1zM93 648h2v1h-2zM76 649h1v1h-1zM95 649h1v1h-1zM76 650h1v1h-1zM91 650h3v1h-3zM72 651h1v1h-1zM76 651h1v1h-1zM92 651h1v1h-1zM70 652h1v1h-1zM72 652h1v1h-1zM74 652h2v1h-2zM95 652h1v1h-1zM69 653h1v1h-1zM72 653h3v1h-3zM93 653h1v1h-1zM70 654h1v1h-1zM73 654h2v1h-2zM93 654h1v1h-1zM95 654h1v1h-1zM70 655h2v1h-2zM93 655h1v1h-1zM70 656h3v1h-3zM73 657h1v1h-1zM94 657h2v1h-2zM68 658h1v1h-1zM72 658h1v1h-1zM94 658h2v1h-2zM69 659h1v1h-1zM71 659h1v1h-1zM73 659h1v1h-1zM95 659h1v1h-1zM70 660h1v1h-1zM72 660h1v1h-1zM93 660h1v1h-1zM95 660h1v1h-1zM68 661h1v1h-1zM70 661h1v1h-1zM72 661h1v1h-1zM74 661h1v1h-1zM93 661h1v1h-1zM95 661h1v1h-1zM69 662h2v1h-2zM73 662h2v1h-2zM93 662h1v1h-1zM95 662h1v1h-1zM68 663h3v1h-3zM93 663h1v1h-1zM70 664h1v1h-1zM72 664h1v1h-1zM75 664h1v1h-1zM73 665h1v1h-1zM92 665h2v1h-2zM74 666h1v1h-1zM76 666h1v1h-1zM91 666h3v1h-3zM69 667h1v1h-1zM71 667h2v1h-2zM75 667h2v1h-2zM90 667h2v1h-2zM93 667h1v1h-1zM70 668h1v1h-1zM90 668h2v1h-2zM93 668h1v1h-1zM70 669h1v1h-1zM74 669h1v1h-1zM78 669h1v1h-1zM95 669h1v1h-1zM73 670h1v1h-1zM75 670h1v1h-1zM77 670h1v1h-1zM79 670h1v1h-1zM76 671h1v1h-1zM78 671h1v1h-1zM81 671h2v1h-2zM84 671h4v1h-4zM89 671h2v1h-2zM93 671h1v1h-1zM75 672h1v1h-1zM77 672h2v1h-2zM80 672h1v1h-1zM82 672h1v1h-1zM84 672h2v1h-2zM93 672h1v1h-1zM75 673h1v1h-1zM78 673h1v1h-1zM84 673h2v1h-2zM77 674h1v1h-1zM80 674h1v1h-1zM83 674h1v1h-1zM85 674h1v1h-1zM88 674h1v1h-1zM77 675h2v1h-2zM80 675h1v1h-1zM83 675h2v1h-2zM86 675h1v1h-1zM81 676h1v1h-1zM83 676h1v1h-1zM88 676h1v1h-1z" fill="#222" filter="url(#sb)"/>
<path d="M82 646h1v1h-1zM85 646h1v1h-1zM83 647h4v1h-4zM88 647h1v1h-1zM79 648h2v1h-2zM83 648h1v1h-1zM86 648h4v1h-4zM78 649h2v1h-2zM81 649h2v1h-2zM84 649h5v1h-5zM90 649h1v1h-1zM77 650h1v1h-1zM79 650h5v1h-5zM85 650h5v1h-5zM77 651h13v1h-13zM91 651h1v1h-1zM76 652h2v1h-2zM79 652h1v1h-1zM81 652h8v1h-8zM90 652h1v1h-1zM76 653h13v1h-13zM90 653h3v1h-3zM76 654h1v1h-1zM78 654h15v1h-15zM76 655h13v1h-13zM92 655h1v1h-1zM75 656h18v1h-18zM75 657h14v1h-14zM90 657h3v1h-3zM76 658h2v1h-2zM80 658h9v1h-9zM76 659h17v1h-17zM75 660h2v1h-2zM78 660h15v1h-15zM75 661h1v1h-1zM77 661h16v1h-16zM76 662h1v1h-1zM78 662h10v1h-10zM89 662h4v1h-4zM75 663h1v1h-1zM77 663h9v1h-9zM87 663h6v1h-6zM77 664h3v1h-3zM81 664h6v1h-6zM88 664h1v1h-1zM91 664h1v1h-1zM76 665h2v1h-2zM79 665h5v1h-5zM85 665h4v1h-4zM90 665h1v1h-1zM77 666h2v1h-2zM81 666h6v1h-6zM89 666h2v1h-2zM77 667h1v1h-1zM79 667h2v1h-2zM82 667h2v1h-2zM85 667h3v1h-3zM89 667h1v1h-1zM79 668h5v1h-5zM85 668h2v1h-2zM88 668h2v1h-2zM81 669h1v1h-1zM83 669h1v1h-1zM86 669h2v1h-2zM83 670h3v1h-3z" fill="#000" filter="url(#sb)"/>
<path d="M59.3 678.2H62.1M62.1 678.2V681.0M60.4 671.3H62.1M68.5 678.2V679.9M60.4 667.3H62.1M72.3 678.2V679.9M60.4 664.4H62.1M74.9 678.2V679.9M60.4 662.2H62.1M77.0 678.2V679.9M60.4 660.3H62.1M78.7 678.2V679.9M60.4 658.8H62.1M80.1 678.2V679.9M60.4 657.5H62.1M81.4 678.2V679.9M60.4 656.3H62.1M82.4 678.2V679.9M59.3 655.2H62.1M83.4 678.2V681.0M60.4 648.3H62.1M89.8 678.2V679.9M60.4 644.3H62.1M93.6 678.2V679.9M60.4 641.4H62.1M96.3 678.2V679.9M60.4 639.2H62.1M98.3 678.2V679.9M60.4 637.4H62.1M100.0 678.2V679.9M60.4 635.9H62.1M101.4 678.2V679.9M60.4 634.5H62.1M102.7 678.2V679.9M60.4 633.4H62.1M103.8 678.2V679.9M59.3 632.3H62.1M104.8 678.2V681.0M60.4 625.4H62.1M111.2 678.2V679.9M60.4 621.4H62.1M114.9 678.2V679.9M60.4 618.5H62.1M117.6 678.2V679.9M60.4 616.3H62.1M119.7 678.2V679.9M60.4 614.4H62.1M121.3 678.2V679.9M60.4 612.9H62.1M122.8 678.2V679.9M60.4 611.6H62.1M124.0 678.2V679.9M60.4 610.4H62.1M125.1 678.2V679.9M59.3 609.4H62.1M126.1 678.2V681.0M60.4 602.4H62.1M132.5 678.2V679.9M60.4 598.4H62.1M136.2 678.2V679.9M60.4 595.5H62.1M138.9 678.2V679.9M60.4 593.3H62.1M141.0 678.2V679.9M60.4 591.5H62.1M142.7 678.2V679.9M60.4 590.0H62.1M144.1 678.2V679.9M60.4 588.6H62.1M145.3 678.2V679.9M60.4 587.5H62.1M146.4 678.2V679.9M59.3 586.4H62.1M147.4 678.2V681.0" stroke="#000" stroke-width="0.9" fill="none"/>
<line x1="96.30" y1="586.40" x2="96.30" y2="678.20" stroke="#000" stroke-width="1.2"/>
<line x1="62.10" y1="642.60" x2="147.40" y2="642.60" stroke="#000" stroke-width="1.2"/>
<rect x="62.10" y="586.40" width="85.30" height="91.80" stroke="#000" stroke-width="1.2" fill="none"/>
<line x1="62.10" y1="586.10" x2="62.10" y2="678.50" stroke="#000" stroke-width="1.6"/>
<text x="144.60" y="598.00" font-size="10.2" font-weight="bold" text-anchor="end" fill="#000">8.45%</text>
<text x="51.60" y="631.30" font-size="12" font-weight="bold" text-anchor="middle" fill="#000" transform="rotate(-90 51.6 631.3)">CCR10-PECy5</text>
<text x="104.60" y="693.80" font-size="12" font-weight="bold" text-anchor="middle" fill="#000">CCR6-PE</text>
<line x1="266.3" y1="469.4" x2="266.3" y2="669.9" stroke="#aaa" stroke-width="1.2"/>
<line x1="263.3" y1="669.9" x2="518" y2="669.9" stroke="#aaa" stroke-width="1.3"/>
<line x1="262.30" y1="669.90" x2="266.30" y2="669.90" stroke="#aaa" stroke-width="1"/>
<text x="256.60" y="675.90" font-size="12.2" text-anchor="end" fill="#000">0</text>
<line x1="262.30" y1="644.90" x2="266.30" y2="644.90" stroke="#aaa" stroke-width="1"/>
<text x="256.60" y="650.90" font-size="12.2" text-anchor="end" fill="#000">5</text>
<line x1="262.30" y1="619.90" x2="266.30" y2="619.90" stroke="#aaa" stroke-width="1"/>
<text x="256.60" y="625.90" font-size="12.2" text-anchor="end" fill="#000">10</text>
<line x1="262.30" y1="594.90" x2="266.30" y2="594.90" stroke="#aaa" stroke-width="1"/>
<text x="256.60" y="600.90" font-size="12.2" text-anchor="end" fill="#000">15</text>
<line x1="262.30" y1="569.90" x2="266.30" y2="569.90" stroke="#aaa" stroke-width="1"/>
<text x="256.60" y="575.90" font-size="12.2" text-anchor="end" fill="#000">20</text>
<line x1="262.30" y1="544.90" x2="266.30" y2="544.90" stroke="#aaa" stroke-width="1"/>
<text x="256.60" y="550.90" font-size="12.2" text-anchor="end" fill="#000">25</text>
<line x1="262.30" y1="519.90" x2="266.30" y2="519.90" stroke="#aaa" stroke-width="1"/>
<text x="256.60" y="525.90" font-size="12.2" text-anchor="end" fill="#000">30</text>
<line x1="262.30" y1="494.90" x2="266.30" y2="494.90" stroke="#aaa" stroke-width="1"/>
<text x="256.60" y="500.90" font-size="12.2" text-anchor="end" fill="#000">35</text>
<line x1="262.30" y1="469.90" x2="266.30" y2="469.90" stroke="#aaa" stroke-width="1"/>
<text x="256.60" y="475.90" font-size="12.2" text-anchor="end" fill="#000">40</text>
<line x1="327.50" y1="669.90" x2="327.50" y2="672.90" stroke="#aaa" stroke-width="1"/>
<line x1="390.00" y1="669.90" x2="390.00" y2="672.90" stroke="#aaa" stroke-width="1"/>
<line x1="451.80" y1="669.90" x2="451.80" y2="672.90" stroke="#aaa" stroke-width="1"/>
<text x="226.40" y="571.30" font-size="11.3" font-weight="bold" text-anchor="middle" fill="#000" transform="rotate(-90 226.4 571.3)">migration index</text>
<defs>
<filter id="sb" x="-5%" y="-5%" width="110%" height="110%"><feGaussianBlur stdDeviation="0.35"/></filter>
<pattern id="stip" x="0.5" y="0.3" width="6.1" height="5.8" patternUnits="userSpaceOnUse"><rect x="0.8" y="0.8" width="1.5" height="1.4" fill="#8a8a8a"/><rect x="3.85" y="3.7" width="1.5" height="1.4" fill="#8a8a8a"/></pattern>
<pattern id="stip2" x="0.3" y="0" width="3.6" height="6.8" patternUnits="userSpaceOnUse"><rect x="0.6" y="0.6" width="1.3" height="1.3" fill="#777"/><rect x="2.4" y="4" width="1.3" height="1.3" fill="#777"/></pattern>
<pattern id="hatch" width="3.8" height="3.8" patternUnits="userSpaceOnUse" patternTransform="rotate(45)"><rect x="0" y="0" width="1.45" height="3.8" fill="#000"/></pattern>
<pattern id="hatch2" width="3.4" height="3.4" patternUnits="userSpaceOnUse" patternTransform="rotate(45)"><rect x="0" y="0" width="1.4" height="3.4" fill="#000"/></pattern>
</defs>
<rect x="284.6" y="664.90" width="25.00" height="5.00" fill="#fff" stroke="#000" stroke-width="1.3"/>
<rect x="346.4" y="530.90" width="24.90" height="139.00" fill="url(#stip)" stroke="#000" stroke-width="1.3"/>
<line x1="358.85" y1="530.90" x2="358.85" y2="494.90" stroke="#222" stroke-width="1.3"/>
<line x1="355.15" y1="494.90" x2="362.55" y2="494.90" stroke="#222" stroke-width="1.6"/>
<path d="M354.75 479.50V485.30M352.24 480.95L357.26 483.85M352.24 483.85L357.26 480.95" stroke="#555" stroke-width="1.25" fill="none"/>
<path d="M360.35 479.50V485.30M357.84 480.95L362.86 483.85M357.84 483.85L362.86 480.95" stroke="#555" stroke-width="1.25" fill="none"/>
<rect x="408.6" y="641.40" width="24.20" height="28.50" fill="#000" stroke="#000" stroke-width="1.3"/>
<line x1="420.70" y1="641.40" x2="420.70" y2="634.15" stroke="#222" stroke-width="1.3"/>
<line x1="417.00" y1="634.15" x2="424.40" y2="634.15" stroke="#222" stroke-width="1.6"/>
<path d="M420.70 620.30V626.10M418.19 621.75L423.21 624.65M418.19 624.65L423.21 621.75" stroke="#555" stroke-width="1.25" fill="none"/>
<rect x="469.8" y="630.90" width="25.00" height="39.00" fill="url(#hatch)" stroke="#000" stroke-width="1.3"/>
<line x1="482.30" y1="630.90" x2="482.30" y2="619.90" stroke="#222" stroke-width="1.3"/>
<line x1="478.60" y1="619.90" x2="486.00" y2="619.90" stroke="#222" stroke-width="1.6"/>
<path d="M482.30 610.70V616.50M479.79 612.15L484.81 615.05M479.79 615.05L484.81 612.15" stroke="#555" stroke-width="1.25" fill="none"/>
<text x="294.40" y="687.90" font-size="12" font-weight="bold" text-anchor="middle" fill="#000">medium</text>
<text x="358.30" y="687.90" font-size="12" font-weight="bold" text-anchor="middle" fill="#000">CXCL12</text>
<text x="420.60" y="687.90" font-size="12" font-weight="bold" text-anchor="middle" fill="#000">CCL20</text>
<text x="484.70" y="687.90" font-size="12" font-weight="bold" text-anchor="middle" fill="#000">CCL28</text>
<line x1="427.3" y1="483.6" x2="427.3" y2="561.6" stroke="#aaa" stroke-width="1"/>
<line x1="425.8" y1="561.6" x2="517.5" y2="561.6" stroke="#aaa" stroke-width="1"/>
<line x1="425.30" y1="561.60" x2="427.30" y2="561.60" stroke="#aaa" stroke-width="0.8"/>
<text x="421.80" y="564.70" font-size="8.6" text-anchor="end" fill="#000">0</text>
<line x1="425.30" y1="542.10" x2="427.30" y2="542.10" stroke="#aaa" stroke-width="0.8"/>
<text x="421.80" y="545.20" font-size="8.6" text-anchor="end" fill="#000">20</text>
<line x1="425.30" y1="522.60" x2="427.30" y2="522.60" stroke="#aaa" stroke-width="0.8"/>
<text x="421.80" y="525.70" font-size="8.6" text-anchor="end" fill="#000">40</text>
<line x1="425.30" y1="503.10" x2="427.30" y2="503.10" stroke="#aaa" stroke-width="0.8"/>
<text x="421.80" y="506.20" font-size="8.6" text-anchor="end" fill="#000">60</text>
<line x1="425.30" y1="483.60" x2="427.30" y2="483.60" stroke="#aaa" stroke-width="0.8"/>
<text x="421.80" y="486.70" font-size="8.6" text-anchor="end" fill="#000">80</text>
<line x1="456.40" y1="561.60" x2="456.40" y2="563.60" stroke="#aaa" stroke-width="0.8"/>
<line x1="485.50" y1="561.60" x2="485.50" y2="563.60" stroke="#aaa" stroke-width="0.8"/>
<rect x="436.3" y="516.26" width="11.80" height="45.34" fill="url(#stip2)" stroke="#000" stroke-width="1.1"/>
<line x1="442.20" y1="516.26" x2="442.20" y2="505.54" stroke="#222" stroke-width="1.1"/>
<line x1="440.20" y1="505.54" x2="444.20" y2="505.54" stroke="#222" stroke-width="1.2"/>
<rect x="465.4" y="514.31" width="11.80" height="47.29" fill="#000" stroke="#000" stroke-width="1.1"/>
<line x1="471.30" y1="514.31" x2="471.30" y2="501.64" stroke="#222" stroke-width="1.1"/>
<line x1="469.30" y1="501.64" x2="473.30" y2="501.64" stroke="#222" stroke-width="1.2"/>
<rect x="494.7" y="534.30" width="11.50" height="27.30" fill="url(#hatch2)" stroke="#000" stroke-width="1.1"/>
<line x1="500.45" y1="534.30" x2="500.45" y2="532.15" stroke="#222" stroke-width="1.1"/>
<line x1="498.45" y1="532.15" x2="502.45" y2="532.15" stroke="#222" stroke-width="1.2"/>
<text x="438.00" y="577.80" font-size="9.4" text-anchor="middle" fill="#000">CXCL12</text>
<text x="472.80" y="577.80" font-size="9.4" text-anchor="middle" fill="#000">CCL20</text>
<text x="504.30" y="577.80" font-size="9.4" text-anchor="middle" fill="#000">CCL28</text>
<text x="393.40" y="518.40" font-size="10.2" font-weight="bold" text-anchor="middle" fill="#000" transform="rotate(-90 393.4 518.4)">Migration</text>
<text x="405.60" y="518.90" font-size="10.2" font-weight="bold" text-anchor="middle" fill="#000" transform="rotate(-90 405.6 518.9)">(% input C(X)CR+ pDC)</text></svg>
</body></html>
